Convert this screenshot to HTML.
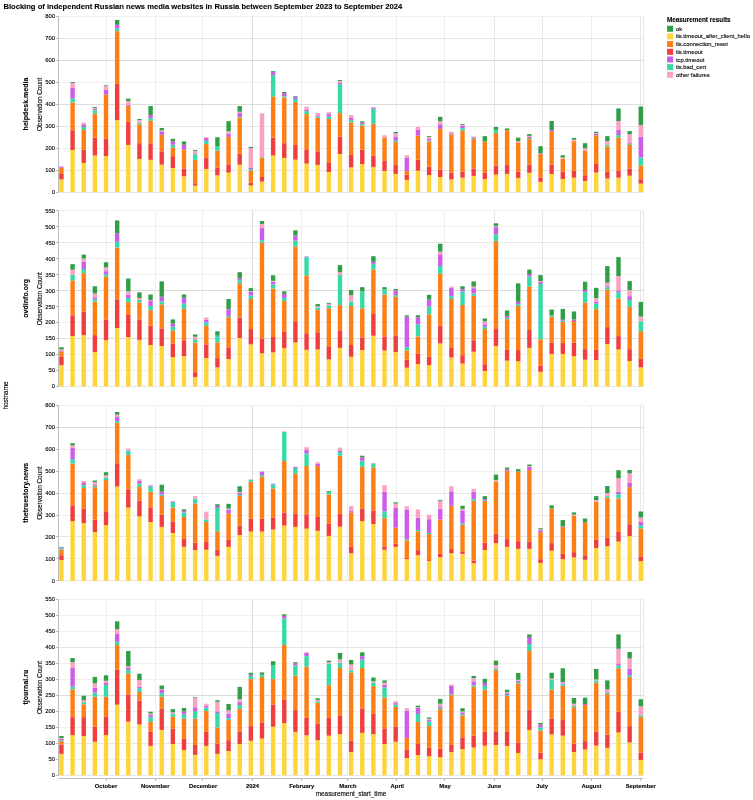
<!DOCTYPE html>
<html><head><meta charset="utf-8"><title>Blocking of independent Russian news media websites in Russia</title>
<style>
html,body{margin:0;padding:0;background:#fff}
svg{display:block;font-family:"Liberation Sans",Arial,Helvetica,sans-serif}
text{fill:#000;stroke:#000;stroke-width:0.12px}
.b{font-weight:bold;stroke-width:.1px}
.l{font-size:5.85px}.h{font-size:6.38px}
.e{text-anchor:end}.m{text-anchor:middle}
.gL,.gM,.gD{stroke-width:1;fill:none}.gL{stroke:#efefef}.gM{stroke:#e7e7e7}.gD{stroke:#dcdcdc}
.ax{stroke:#bbb;stroke-width:1;fill:none}
.y{fill:#ffd43b}.r{fill:#f03e3e}.o{fill:#fd7e14}.t{fill:#38d9a9}.p{fill:#cc5de8}.k{fill:#faa2c1}.g{fill:#2f9e44}
</style></head>
<body>
<svg width="753" height="800" viewBox="0 0 753 800">
<rect width="753" height="800" fill="#fff"/>
<text class="b" x="3.4" y="9" font-size="7.62">Blocking of independent Russian news media websites in Russia between September 2023 to September 2024</text>
<g>
<path class="gL" d="M106.5 16.45V192.15M155.5 16.45V192.15M202.5 16.45V192.15M301.5 16.45V192.15M347.5 16.45V192.15M396.5 16.45V192.15M444.5 16.45V192.15M591.5 16.45V192.15M58.5 148.5H643.5M58.5 82.5H643.5M58.5 16.5H643.5"/>
<path class="gM" d="M494.5 16.45V192.15M542.5 16.45V192.15M640.5 16.45V192.15M58.5 192.5H643.5M58.5 170.5H643.5M58.5 126.5H643.5M58.5 38.5H643.5M643.5 16.45V192.15"/>
<path class="gD" d="M252.5 16.45V192.15M58.5 104.5H643.5M58.5 60.5H643.5"/>
<rect class="y" x="59.25" y="179.41" width="4.4" height="12.74"/>
<rect class="r" x="59.25" y="173.92" width="4.4" height="5.49"/>
<rect class="o" x="59.25" y="167.99" width="4.4" height="5.93"/>
<rect class="p" x="59.25" y="167.11" width="4.4" height="0.88"/>
<rect class="k" x="59.25" y="166.23" width="4.4" height="0.88"/>
<rect class="y" x="70.39" y="149.98" width="4.4" height="42.17"/>
<rect class="r" x="70.39" y="130.22" width="4.4" height="19.77"/>
<rect class="o" x="70.39" y="102.54" width="4.4" height="27.67"/>
<rect class="t" x="70.39" y="98.37" width="4.4" height="4.17"/>
<rect class="p" x="70.39" y="88.05" width="4.4" height="10.32"/>
<rect class="k" x="70.39" y="83" width="4.4" height="5.05"/>
<rect class="g" x="70.39" y="82.12" width="4.4" height="0.88"/>
<rect class="y" x="81.53" y="162.94" width="4.4" height="29.21"/>
<rect class="r" x="81.53" y="149.76" width="4.4" height="13.18"/>
<rect class="o" x="81.53" y="130" width="4.4" height="19.77"/>
<rect class="t" x="81.53" y="126.92" width="4.4" height="3.07"/>
<rect class="p" x="81.53" y="124.29" width="4.4" height="2.64"/>
<rect class="k" x="81.53" y="122.53" width="4.4" height="1.76"/>
<rect class="y" x="92.67" y="155.47" width="4.4" height="36.68"/>
<rect class="r" x="92.67" y="137.68" width="4.4" height="17.79"/>
<rect class="o" x="92.67" y="113.52" width="4.4" height="24.16"/>
<rect class="t" x="92.67" y="110.23" width="4.4" height="3.29"/>
<rect class="p" x="92.67" y="109.13" width="4.4" height="1.1"/>
<rect class="k" x="92.67" y="108.03" width="4.4" height="1.1"/>
<rect class="g" x="92.67" y="107.16" width="4.4" height="0.88"/>
<rect class="y" x="103.81" y="156.13" width="4.4" height="36.02"/>
<rect class="r" x="103.81" y="138.78" width="4.4" height="17.35"/>
<rect class="o" x="103.81" y="94.64" width="4.4" height="44.14"/>
<rect class="p" x="103.81" y="89.59" width="4.4" height="5.05"/>
<rect class="k" x="103.81" y="85.85" width="4.4" height="3.73"/>
<rect class="g" x="103.81" y="85.19" width="4.4" height="0.66"/>
<rect class="y" x="114.95" y="120.11" width="4.4" height="72.04"/>
<rect class="r" x="114.95" y="83.87" width="4.4" height="36.24"/>
<rect class="o" x="114.95" y="31.16" width="4.4" height="52.71"/>
<rect class="t" x="114.95" y="28.53" width="4.4" height="2.64"/>
<rect class="p" x="114.95" y="24.8" width="4.4" height="3.73"/>
<rect class="g" x="114.95" y="19.96" width="4.4" height="4.83"/>
<rect class="y" x="126.1" y="144.93" width="4.4" height="47.22"/>
<rect class="r" x="126.1" y="121.87" width="4.4" height="23.06"/>
<rect class="o" x="126.1" y="105.84" width="4.4" height="16.03"/>
<rect class="p" x="126.1" y="104.74" width="4.4" height="1.1"/>
<rect class="k" x="126.1" y="101.01" width="4.4" height="3.73"/>
<rect class="g" x="126.1" y="98.59" width="4.4" height="2.42"/>
<rect class="y" x="137.24" y="158.99" width="4.4" height="33.16"/>
<rect class="r" x="137.24" y="143.17" width="4.4" height="15.81"/>
<rect class="o" x="137.24" y="124.29" width="4.4" height="18.89"/>
<rect class="t" x="137.24" y="122.75" width="4.4" height="1.54"/>
<rect class="k" x="137.24" y="120.11" width="4.4" height="2.64"/>
<rect class="g" x="137.24" y="119.01" width="4.4" height="1.1"/>
<rect class="y" x="148.38" y="159.87" width="4.4" height="32.28"/>
<rect class="r" x="148.38" y="143.39" width="4.4" height="16.47"/>
<rect class="o" x="148.38" y="120.77" width="4.4" height="22.62"/>
<rect class="t" x="148.38" y="118.14" width="4.4" height="2.64"/>
<rect class="p" x="148.38" y="115.06" width="4.4" height="3.07"/>
<rect class="g" x="148.38" y="106.06" width="4.4" height="9"/>
<rect class="y" x="159.52" y="164.7" width="4.4" height="27.45"/>
<rect class="r" x="159.52" y="151.3" width="4.4" height="13.4"/>
<rect class="o" x="159.52" y="134.83" width="4.4" height="16.47"/>
<rect class="p" x="159.52" y="131.31" width="4.4" height="3.51"/>
<rect class="k" x="159.52" y="130.22" width="4.4" height="1.1"/>
<rect class="g" x="159.52" y="128.02" width="4.4" height="2.2"/>
<rect class="y" x="170.66" y="167.99" width="4.4" height="24.16"/>
<rect class="r" x="170.66" y="156.13" width="4.4" height="11.86"/>
<rect class="o" x="170.66" y="147.57" width="4.4" height="8.57"/>
<rect class="t" x="170.66" y="144.71" width="4.4" height="2.86"/>
<rect class="p" x="170.66" y="141.2" width="4.4" height="3.51"/>
<rect class="g" x="170.66" y="138.78" width="4.4" height="2.42"/>
<rect class="y" x="181.8" y="176.34" width="4.4" height="15.81"/>
<rect class="r" x="181.8" y="168.65" width="4.4" height="7.69"/>
<rect class="o" x="181.8" y="149.32" width="4.4" height="19.33"/>
<rect class="p" x="181.8" y="144.71" width="4.4" height="4.61"/>
<rect class="g" x="181.8" y="141.42" width="4.4" height="3.29"/>
<rect class="y" x="192.94" y="185.56" width="4.4" height="6.59"/>
<rect class="r" x="192.94" y="183.36" width="4.4" height="2.2"/>
<rect class="o" x="192.94" y="159.87" width="4.4" height="23.5"/>
<rect class="t" x="192.94" y="154.15" width="4.4" height="5.71"/>
<rect class="k" x="192.94" y="150.86" width="4.4" height="3.29"/>
<rect class="g" x="192.94" y="149.98" width="4.4" height="0.88"/>
<rect class="y" x="204.08" y="168.87" width="4.4" height="23.28"/>
<rect class="r" x="204.08" y="157.45" width="4.4" height="11.42"/>
<rect class="o" x="204.08" y="144.05" width="4.4" height="13.4"/>
<rect class="t" x="204.08" y="140.76" width="4.4" height="3.29"/>
<rect class="p" x="204.08" y="137.9" width="4.4" height="2.86"/>
<rect class="k" x="204.08" y="137.24" width="4.4" height="0.66"/>
<rect class="y" x="215.22" y="175.24" width="4.4" height="16.91"/>
<rect class="r" x="215.22" y="167.77" width="4.4" height="7.47"/>
<rect class="o" x="215.22" y="150.64" width="4.4" height="17.13"/>
<rect class="t" x="215.22" y="146.47" width="4.4" height="4.17"/>
<rect class="g" x="215.22" y="137.24" width="4.4" height="9.22"/>
<rect class="y" x="226.37" y="172.6" width="4.4" height="19.55"/>
<rect class="r" x="226.37" y="164.26" width="4.4" height="8.35"/>
<rect class="o" x="226.37" y="136.8" width="4.4" height="27.45"/>
<rect class="p" x="226.37" y="133.73" width="4.4" height="3.07"/>
<rect class="k" x="226.37" y="131.31" width="4.4" height="2.42"/>
<rect class="g" x="226.37" y="121.21" width="4.4" height="10.1"/>
<rect class="y" x="237.51" y="164.7" width="4.4" height="27.45"/>
<rect class="r" x="237.51" y="153.72" width="4.4" height="10.98"/>
<rect class="o" x="237.51" y="117.7" width="4.4" height="36.02"/>
<rect class="t" x="237.51" y="117.04" width="4.4" height="0.66"/>
<rect class="p" x="237.51" y="112.87" width="4.4" height="4.17"/>
<rect class="k" x="237.51" y="111.77" width="4.4" height="1.1"/>
<rect class="g" x="237.51" y="106.06" width="4.4" height="5.71"/>
<rect class="y" x="248.65" y="185.34" width="4.4" height="6.81"/>
<rect class="r" x="248.65" y="182.71" width="4.4" height="2.64"/>
<rect class="o" x="248.65" y="170.41" width="4.4" height="12.3"/>
<rect class="t" x="248.65" y="169.09" width="4.4" height="1.32"/>
<rect class="p" x="248.65" y="167.99" width="4.4" height="1.1"/>
<rect class="k" x="248.65" y="148.01" width="4.4" height="19.99"/>
<rect class="g" x="248.65" y="146.91" width="4.4" height="1.1"/>
<rect class="y" x="259.79" y="181.61" width="4.4" height="10.54"/>
<rect class="r" x="259.79" y="177" width="4.4" height="4.61"/>
<rect class="o" x="259.79" y="157.89" width="4.4" height="19.11"/>
<rect class="t" x="259.79" y="157.23" width="4.4" height="0.66"/>
<rect class="k" x="259.79" y="113.3" width="4.4" height="43.92"/>
<rect class="y" x="270.93" y="155.47" width="4.4" height="36.68"/>
<rect class="r" x="270.93" y="137.68" width="4.4" height="17.79"/>
<rect class="o" x="270.93" y="96.39" width="4.4" height="41.29"/>
<rect class="t" x="270.93" y="75.09" width="4.4" height="21.3"/>
<rect class="p" x="270.93" y="72.02" width="4.4" height="3.07"/>
<rect class="g" x="270.93" y="71.14" width="4.4" height="0.88"/>
<rect class="y" x="282.07" y="157.89" width="4.4" height="34.26"/>
<rect class="r" x="282.07" y="143.17" width="4.4" height="14.71"/>
<rect class="o" x="282.07" y="97.71" width="4.4" height="45.46"/>
<rect class="t" x="282.07" y="96.39" width="4.4" height="1.32"/>
<rect class="p" x="282.07" y="93.1" width="4.4" height="3.29"/>
<rect class="g" x="282.07" y="92" width="4.4" height="1.1"/>
<rect class="y" x="293.21" y="159.65" width="4.4" height="32.5"/>
<rect class="r" x="293.21" y="144.93" width="4.4" height="14.71"/>
<rect class="o" x="293.21" y="102.1" width="4.4" height="42.83"/>
<rect class="t" x="293.21" y="99.03" width="4.4" height="3.07"/>
<rect class="p" x="293.21" y="96.83" width="4.4" height="2.2"/>
<rect class="g" x="293.21" y="96.17" width="4.4" height="0.66"/>
<rect class="y" x="304.35" y="163.6" width="4.4" height="28.55"/>
<rect class="r" x="304.35" y="149.32" width="4.4" height="14.28"/>
<rect class="o" x="304.35" y="114.18" width="4.4" height="35.14"/>
<rect class="t" x="304.35" y="111.11" width="4.4" height="3.07"/>
<rect class="p" x="304.35" y="109.79" width="4.4" height="1.32"/>
<rect class="k" x="304.35" y="106.72" width="4.4" height="3.07"/>
<rect class="y" x="315.49" y="164.92" width="4.4" height="27.23"/>
<rect class="r" x="315.49" y="151.3" width="4.4" height="13.62"/>
<rect class="o" x="315.49" y="117.7" width="4.4" height="33.6"/>
<rect class="t" x="315.49" y="116.6" width="4.4" height="1.1"/>
<rect class="p" x="315.49" y="115.28" width="4.4" height="1.32"/>
<rect class="k" x="315.49" y="113.08" width="4.4" height="2.2"/>
<rect class="y" x="326.63" y="171.94" width="4.4" height="20.21"/>
<rect class="r" x="326.63" y="162.28" width="4.4" height="9.66"/>
<rect class="o" x="326.63" y="119.01" width="4.4" height="43.27"/>
<rect class="t" x="326.63" y="116.6" width="4.4" height="2.42"/>
<rect class="p" x="326.63" y="114.18" width="4.4" height="2.42"/>
<rect class="k" x="326.63" y="112.21" width="4.4" height="1.98"/>
<rect class="y" x="337.77" y="153.94" width="4.4" height="38.21"/>
<rect class="r" x="337.77" y="136.8" width="4.4" height="17.13"/>
<rect class="o" x="337.77" y="113.08" width="4.4" height="23.72"/>
<rect class="t" x="337.77" y="84.31" width="4.4" height="28.77"/>
<rect class="p" x="337.77" y="82.78" width="4.4" height="1.54"/>
<rect class="k" x="337.77" y="81.24" width="4.4" height="1.54"/>
<rect class="g" x="337.77" y="80.14" width="4.4" height="1.1"/>
<rect class="y" x="348.92" y="167.33" width="4.4" height="24.82"/>
<rect class="r" x="348.92" y="155.03" width="4.4" height="12.3"/>
<rect class="o" x="348.92" y="122.53" width="4.4" height="32.5"/>
<rect class="t" x="348.92" y="120.11" width="4.4" height="2.42"/>
<rect class="p" x="348.92" y="117.92" width="4.4" height="2.2"/>
<rect class="k" x="348.92" y="115.06" width="4.4" height="2.86"/>
<rect class="y" x="360.06" y="164.04" width="4.4" height="28.11"/>
<rect class="r" x="360.06" y="149.76" width="4.4" height="14.28"/>
<rect class="o" x="360.06" y="125.82" width="4.4" height="23.94"/>
<rect class="t" x="360.06" y="124.29" width="4.4" height="1.54"/>
<rect class="p" x="360.06" y="122.31" width="4.4" height="1.98"/>
<rect class="g" x="360.06" y="121.21" width="4.4" height="1.1"/>
<rect class="y" x="371.2" y="166.89" width="4.4" height="25.26"/>
<rect class="r" x="371.2" y="155.69" width="4.4" height="11.2"/>
<rect class="o" x="371.2" y="123.85" width="4.4" height="31.85"/>
<rect class="t" x="371.2" y="108.69" width="4.4" height="15.15"/>
<rect class="p" x="371.2" y="107.37" width="4.4" height="1.32"/>
<rect class="y" x="382.34" y="170.85" width="4.4" height="21.3"/>
<rect class="r" x="382.34" y="160.3" width="4.4" height="10.54"/>
<rect class="o" x="382.34" y="137.68" width="4.4" height="22.62"/>
<rect class="k" x="382.34" y="135.27" width="4.4" height="2.42"/>
<rect class="y" x="393.48" y="173.92" width="4.4" height="18.23"/>
<rect class="r" x="393.48" y="164.92" width="4.4" height="9"/>
<rect class="o" x="393.48" y="142.08" width="4.4" height="22.84"/>
<rect class="t" x="393.48" y="140.76" width="4.4" height="1.32"/>
<rect class="p" x="393.48" y="137.02" width="4.4" height="3.73"/>
<rect class="k" x="393.48" y="133.29" width="4.4" height="3.73"/>
<rect class="g" x="393.48" y="131.97" width="4.4" height="1.32"/>
<rect class="y" x="404.62" y="179.85" width="4.4" height="12.3"/>
<rect class="r" x="404.62" y="174.58" width="4.4" height="5.27"/>
<rect class="o" x="404.62" y="170.85" width="4.4" height="3.73"/>
<rect class="p" x="404.62" y="157.89" width="4.4" height="12.96"/>
<rect class="k" x="404.62" y="155.25" width="4.4" height="2.64"/>
<rect class="y" x="415.76" y="170.63" width="4.4" height="21.52"/>
<rect class="r" x="415.76" y="159.65" width="4.4" height="10.98"/>
<rect class="o" x="415.76" y="135.71" width="4.4" height="23.94"/>
<rect class="p" x="415.76" y="130" width="4.4" height="5.71"/>
<rect class="k" x="415.76" y="126.92" width="4.4" height="3.07"/>
<rect class="y" x="426.9" y="175.02" width="4.4" height="17.13"/>
<rect class="r" x="426.9" y="166.67" width="4.4" height="8.35"/>
<rect class="o" x="426.9" y="141.42" width="4.4" height="25.26"/>
<rect class="t" x="426.9" y="140.54" width="4.4" height="0.88"/>
<rect class="p" x="426.9" y="138.78" width="4.4" height="1.76"/>
<rect class="k" x="426.9" y="137.02" width="4.4" height="1.76"/>
<rect class="g" x="426.9" y="136.15" width="4.4" height="0.88"/>
<rect class="y" x="438.04" y="177" width="4.4" height="15.15"/>
<rect class="r" x="438.04" y="169.75" width="4.4" height="7.25"/>
<rect class="o" x="438.04" y="128.9" width="4.4" height="40.85"/>
<rect class="p" x="438.04" y="124.29" width="4.4" height="4.61"/>
<rect class="k" x="438.04" y="121.21" width="4.4" height="3.07"/>
<rect class="g" x="438.04" y="116.82" width="4.4" height="4.39"/>
<rect class="y" x="449.19" y="179.41" width="4.4" height="12.74"/>
<rect class="r" x="449.19" y="172.6" width="4.4" height="6.81"/>
<rect class="o" x="449.19" y="134.39" width="4.4" height="38.21"/>
<rect class="p" x="449.19" y="133.29" width="4.4" height="1.1"/>
<rect class="k" x="449.19" y="131.75" width="4.4" height="1.54"/>
<rect class="y" x="460.33" y="177.65" width="4.4" height="14.5"/>
<rect class="r" x="460.33" y="171.72" width="4.4" height="5.93"/>
<rect class="o" x="460.33" y="130.65" width="4.4" height="41.07"/>
<rect class="t" x="460.33" y="128.24" width="4.4" height="2.42"/>
<rect class="p" x="460.33" y="125.82" width="4.4" height="2.42"/>
<rect class="k" x="460.33" y="124.94" width="4.4" height="0.88"/>
<rect class="g" x="460.33" y="124.07" width="4.4" height="0.88"/>
<rect class="y" x="471.47" y="175.9" width="4.4" height="16.25"/>
<rect class="r" x="471.47" y="168.65" width="4.4" height="7.25"/>
<rect class="o" x="471.47" y="139" width="4.4" height="29.65"/>
<rect class="t" x="471.47" y="138.12" width="4.4" height="0.88"/>
<rect class="p" x="471.47" y="137.24" width="4.4" height="0.88"/>
<rect class="k" x="471.47" y="136.58" width="4.4" height="0.66"/>
<rect class="y" x="482.61" y="178.97" width="4.4" height="13.18"/>
<rect class="r" x="482.61" y="172.38" width="4.4" height="6.59"/>
<rect class="o" x="482.61" y="141.42" width="4.4" height="30.97"/>
<rect class="g" x="482.61" y="136.15" width="4.4" height="5.27"/>
<rect class="y" x="493.75" y="174.58" width="4.4" height="17.57"/>
<rect class="r" x="493.75" y="165.79" width="4.4" height="8.79"/>
<rect class="o" x="493.75" y="133.07" width="4.4" height="32.72"/>
<rect class="t" x="493.75" y="129.78" width="4.4" height="3.29"/>
<rect class="g" x="493.75" y="126.92" width="4.4" height="2.86"/>
<rect class="y" x="504.89" y="173.92" width="4.4" height="18.23"/>
<rect class="r" x="504.89" y="164.92" width="4.4" height="9"/>
<rect class="o" x="504.89" y="130.22" width="4.4" height="34.7"/>
<rect class="g" x="504.89" y="128.46" width="4.4" height="1.76"/>
<rect class="y" x="516.03" y="177.87" width="4.4" height="14.28"/>
<rect class="r" x="516.03" y="171.72" width="4.4" height="6.15"/>
<rect class="o" x="516.03" y="142.51" width="4.4" height="29.21"/>
<rect class="k" x="516.03" y="141.2" width="4.4" height="1.32"/>
<rect class="g" x="516.03" y="137.68" width="4.4" height="3.51"/>
<rect class="y" x="527.17" y="172.82" width="4.4" height="19.33"/>
<rect class="r" x="527.17" y="164.7" width="4.4" height="8.13"/>
<rect class="o" x="527.17" y="139" width="4.4" height="25.7"/>
<rect class="t" x="527.17" y="138.12" width="4.4" height="0.88"/>
<rect class="p" x="527.17" y="137.02" width="4.4" height="1.1"/>
<rect class="k" x="527.17" y="135.93" width="4.4" height="1.1"/>
<rect class="g" x="527.17" y="134.17" width="4.4" height="1.76"/>
<rect class="y" x="538.31" y="181.83" width="4.4" height="10.32"/>
<rect class="r" x="538.31" y="177.44" width="4.4" height="4.39"/>
<rect class="o" x="538.31" y="153.94" width="4.4" height="23.5"/>
<rect class="t" x="538.31" y="153.5" width="4.4" height="0.44"/>
<rect class="p" x="538.31" y="153.06" width="4.4" height="0.44"/>
<rect class="g" x="538.31" y="146.25" width="4.4" height="6.81"/>
<rect class="y" x="549.45" y="173.92" width="4.4" height="18.23"/>
<rect class="r" x="549.45" y="164.7" width="4.4" height="9.22"/>
<rect class="o" x="549.45" y="131.31" width="4.4" height="33.38"/>
<rect class="p" x="549.45" y="130" width="4.4" height="1.32"/>
<rect class="g" x="549.45" y="120.99" width="4.4" height="9"/>
<rect class="y" x="560.6" y="178.97" width="4.4" height="13.18"/>
<rect class="r" x="560.6" y="171.72" width="4.4" height="7.25"/>
<rect class="o" x="560.6" y="158.55" width="4.4" height="13.18"/>
<rect class="k" x="560.6" y="157.45" width="4.4" height="1.1"/>
<rect class="g" x="560.6" y="155.25" width="4.4" height="2.2"/>
<rect class="y" x="571.74" y="177.65" width="4.4" height="14.5"/>
<rect class="r" x="571.74" y="170.85" width="4.4" height="6.81"/>
<rect class="o" x="571.74" y="141.2" width="4.4" height="29.65"/>
<rect class="k" x="571.74" y="139.66" width="4.4" height="1.54"/>
<rect class="g" x="571.74" y="137.9" width="4.4" height="1.76"/>
<rect class="y" x="582.88" y="180.95" width="4.4" height="11.2"/>
<rect class="r" x="582.88" y="175.24" width="4.4" height="5.71"/>
<rect class="o" x="582.88" y="150.42" width="4.4" height="24.82"/>
<rect class="k" x="582.88" y="148.22" width="4.4" height="2.2"/>
<rect class="g" x="582.88" y="143.17" width="4.4" height="5.05"/>
<rect class="y" x="594.02" y="172.6" width="4.4" height="19.55"/>
<rect class="r" x="594.02" y="164.04" width="4.4" height="8.57"/>
<rect class="o" x="594.02" y="135.27" width="4.4" height="28.77"/>
<rect class="p" x="594.02" y="133.95" width="4.4" height="1.32"/>
<rect class="k" x="594.02" y="133.07" width="4.4" height="0.88"/>
<rect class="g" x="594.02" y="131.75" width="4.4" height="1.32"/>
<rect class="y" x="605.16" y="178.53" width="4.4" height="13.62"/>
<rect class="r" x="605.16" y="171.94" width="4.4" height="6.59"/>
<rect class="o" x="605.16" y="146.47" width="4.4" height="25.48"/>
<rect class="t" x="605.16" y="144.93" width="4.4" height="1.54"/>
<rect class="k" x="605.16" y="140.98" width="4.4" height="3.95"/>
<rect class="g" x="605.16" y="136.15" width="4.4" height="4.83"/>
<rect class="y" x="616.3" y="177.65" width="4.4" height="14.5"/>
<rect class="r" x="616.3" y="170.41" width="4.4" height="7.25"/>
<rect class="o" x="616.3" y="137.46" width="4.4" height="32.94"/>
<rect class="t" x="616.3" y="135.05" width="4.4" height="2.42"/>
<rect class="p" x="616.3" y="129.56" width="4.4" height="5.49"/>
<rect class="k" x="616.3" y="120.99" width="4.4" height="8.57"/>
<rect class="g" x="616.3" y="108.47" width="4.4" height="12.52"/>
<rect class="y" x="627.44" y="175.68" width="4.4" height="16.47"/>
<rect class="r" x="627.44" y="168.65" width="4.4" height="7.03"/>
<rect class="o" x="627.44" y="144.93" width="4.4" height="23.72"/>
<rect class="t" x="627.44" y="144.05" width="4.4" height="0.88"/>
<rect class="p" x="627.44" y="143.17" width="4.4" height="0.88"/>
<rect class="k" x="627.44" y="134.17" width="4.4" height="9"/>
<rect class="g" x="627.44" y="131.09" width="4.4" height="3.07"/>
<rect class="y" x="638.58" y="183.58" width="4.4" height="8.57"/>
<rect class="r" x="638.58" y="179.19" width="4.4" height="4.39"/>
<rect class="o" x="638.58" y="165.36" width="4.4" height="13.84"/>
<rect class="t" x="638.58" y="157.45" width="4.4" height="7.91"/>
<rect class="p" x="638.58" y="136.8" width="4.4" height="20.64"/>
<rect class="k" x="638.58" y="125.16" width="4.4" height="11.64"/>
<rect class="g" x="638.58" y="106.5" width="4.4" height="18.67"/>
<text class="l e" x="55.1" y="194">0</text>
<text class="l e" x="55.1" y="172.04">100</text>
<text class="l e" x="55.1" y="150.07">200</text>
<text class="l e" x="55.1" y="128.11">300</text>
<text class="l e" x="55.1" y="106.15">400</text>
<text class="l e" x="55.1" y="84.19">500</text>
<text class="l e" x="55.1" y="62.22">600</text>
<text class="l e" x="55.1" y="40.26">700</text>
<text class="l e" x="55.1" y="18.3">800</text>
<path class="ax" d="M58.5 16.45V192.15M56.0 192.5H58.5M56.0 170.5H58.5M56.0 148.5H58.5M56.0 126.5H58.5M56.0 104.5H58.5M56.0 82.5H58.5M56.0 60.5H58.5M56.0 38.5H58.5M56.0 16.5H58.5"/>
<text class="h m" transform="translate(41.6 104.3) rotate(-90)">Observation Count</text>
<text class="b m" font-size="7.04" transform="translate(27.5 104) rotate(-90)">helpdesk.media</text>
</g>
<g>
<path class="gL" d="M106.5 210.83V386.53M155.5 210.83V386.53M202.5 210.83V386.53M301.5 210.83V386.53M347.5 210.83V386.53M396.5 210.83V386.53M444.5 210.83V386.53M591.5 210.83V386.53M58.5 370.5H643.5M58.5 354.5H643.5M58.5 322.5H643.5M58.5 306.5H643.5M58.5 274.5H643.5M58.5 258.5H643.5M58.5 226.5H643.5M58.5 210.5H643.5"/>
<path class="gM" d="M494.5 210.83V386.53M542.5 210.83V386.53M640.5 210.83V386.53M58.5 386.5H643.5M58.5 242.5H643.5M643.5 210.83V386.53"/>
<path class="gD" d="M252.5 210.83V386.53M58.5 338.5H643.5M58.5 290.5H643.5"/>
<rect class="y" x="59.25" y="365.13" width="4.4" height="21.4"/>
<rect class="r" x="59.25" y="356.82" width="4.4" height="8.31"/>
<rect class="o" x="59.25" y="351.39" width="4.4" height="5.43"/>
<rect class="p" x="59.25" y="350.43" width="4.4" height="0.96"/>
<rect class="k" x="59.25" y="349.47" width="4.4" height="0.96"/>
<rect class="g" x="59.25" y="347.24" width="4.4" height="2.24"/>
<rect class="y" x="70.39" y="336.06" width="4.4" height="50.47"/>
<rect class="r" x="70.39" y="315.29" width="4.4" height="20.76"/>
<rect class="o" x="70.39" y="280.47" width="4.4" height="34.82"/>
<rect class="t" x="70.39" y="274.72" width="4.4" height="5.75"/>
<rect class="k" x="70.39" y="269.61" width="4.4" height="5.11"/>
<rect class="g" x="70.39" y="264.18" width="4.4" height="5.43"/>
<rect class="y" x="81.53" y="335.1" width="4.4" height="51.43"/>
<rect class="r" x="81.53" y="311.46" width="4.4" height="23.64"/>
<rect class="o" x="81.53" y="273.12" width="4.4" height="38.33"/>
<rect class="t" x="81.53" y="268.97" width="4.4" height="4.15"/>
<rect class="p" x="81.53" y="261.94" width="4.4" height="7.03"/>
<rect class="k" x="81.53" y="258.43" width="4.4" height="3.51"/>
<rect class="g" x="81.53" y="254.6" width="4.4" height="3.83"/>
<rect class="y" x="92.67" y="352.03" width="4.4" height="34.5"/>
<rect class="r" x="92.67" y="335.1" width="4.4" height="16.93"/>
<rect class="o" x="92.67" y="301.56" width="4.4" height="33.54"/>
<rect class="t" x="92.67" y="299.32" width="4.4" height="2.24"/>
<rect class="p" x="92.67" y="297.4" width="4.4" height="1.92"/>
<rect class="k" x="92.67" y="293.57" width="4.4" height="3.83"/>
<rect class="g" x="92.67" y="286.22" width="4.4" height="7.35"/>
<rect class="y" x="103.81" y="340.21" width="4.4" height="46.32"/>
<rect class="r" x="103.81" y="319.44" width="4.4" height="20.76"/>
<rect class="o" x="103.81" y="276.64" width="4.4" height="42.81"/>
<rect class="t" x="103.81" y="274.4" width="4.4" height="2.24"/>
<rect class="p" x="103.81" y="271.21" width="4.4" height="3.19"/>
<rect class="k" x="103.81" y="267.37" width="4.4" height="3.83"/>
<rect class="g" x="103.81" y="262.26" width="4.4" height="5.11"/>
<rect class="y" x="114.95" y="328.07" width="4.4" height="58.46"/>
<rect class="r" x="114.95" y="299.32" width="4.4" height="28.75"/>
<rect class="o" x="114.95" y="247.57" width="4.4" height="51.75"/>
<rect class="t" x="114.95" y="241.82" width="4.4" height="5.75"/>
<rect class="p" x="114.95" y="233.19" width="4.4" height="8.63"/>
<rect class="g" x="114.95" y="220.41" width="4.4" height="12.78"/>
<rect class="y" x="126.1" y="337.01" width="4.4" height="49.52"/>
<rect class="r" x="126.1" y="314.97" width="4.4" height="22.04"/>
<rect class="o" x="126.1" y="302.19" width="4.4" height="12.78"/>
<rect class="t" x="126.1" y="298.04" width="4.4" height="4.15"/>
<rect class="p" x="126.1" y="294.53" width="4.4" height="3.51"/>
<rect class="k" x="126.1" y="291.33" width="4.4" height="3.19"/>
<rect class="g" x="126.1" y="278.55" width="4.4" height="12.78"/>
<rect class="y" x="137.24" y="339.89" width="4.4" height="46.64"/>
<rect class="r" x="137.24" y="319.44" width="4.4" height="20.45"/>
<rect class="o" x="137.24" y="302.51" width="4.4" height="16.93"/>
<rect class="t" x="137.24" y="299.96" width="4.4" height="2.56"/>
<rect class="k" x="137.24" y="298.04" width="4.4" height="1.92"/>
<rect class="g" x="137.24" y="292.29" width="4.4" height="5.75"/>
<rect class="y" x="148.38" y="345" width="4.4" height="41.53"/>
<rect class="r" x="148.38" y="325.83" width="4.4" height="19.17"/>
<rect class="o" x="148.38" y="310.18" width="4.4" height="15.65"/>
<rect class="t" x="148.38" y="306.03" width="4.4" height="4.15"/>
<rect class="p" x="148.38" y="300.92" width="4.4" height="5.11"/>
<rect class="k" x="148.38" y="299.96" width="4.4" height="0.96"/>
<rect class="g" x="148.38" y="294.53" width="4.4" height="5.43"/>
<rect class="y" x="159.52" y="345.96" width="4.4" height="40.57"/>
<rect class="r" x="159.52" y="328.39" width="4.4" height="17.57"/>
<rect class="o" x="159.52" y="304.43" width="4.4" height="23.96"/>
<rect class="t" x="159.52" y="301.24" width="4.4" height="3.19"/>
<rect class="p" x="159.52" y="296.76" width="4.4" height="4.47"/>
<rect class="g" x="159.52" y="281.43" width="4.4" height="15.33"/>
<rect class="y" x="170.66" y="357.14" width="4.4" height="29.39"/>
<rect class="r" x="170.66" y="343.4" width="4.4" height="13.74"/>
<rect class="o" x="170.66" y="330.63" width="4.4" height="12.78"/>
<rect class="t" x="170.66" y="326.79" width="4.4" height="3.83"/>
<rect class="p" x="170.66" y="323.6" width="4.4" height="3.19"/>
<rect class="g" x="170.66" y="319.44" width="4.4" height="4.15"/>
<rect class="y" x="181.8" y="356.18" width="4.4" height="30.35"/>
<rect class="r" x="181.8" y="340.21" width="4.4" height="15.97"/>
<rect class="o" x="181.8" y="308.9" width="4.4" height="31.31"/>
<rect class="t" x="181.8" y="303.79" width="4.4" height="5.11"/>
<rect class="p" x="181.8" y="297.72" width="4.4" height="6.07"/>
<rect class="g" x="181.8" y="294.53" width="4.4" height="3.19"/>
<rect class="y" x="192.94" y="376.95" width="4.4" height="9.58"/>
<rect class="r" x="192.94" y="372.15" width="4.4" height="4.79"/>
<rect class="o" x="192.94" y="342.76" width="4.4" height="29.39"/>
<rect class="t" x="192.94" y="339.25" width="4.4" height="3.51"/>
<rect class="k" x="192.94" y="336.7" width="4.4" height="2.56"/>
<rect class="g" x="192.94" y="334.46" width="4.4" height="2.24"/>
<rect class="y" x="204.08" y="358.1" width="4.4" height="28.43"/>
<rect class="r" x="204.08" y="344.36" width="4.4" height="13.74"/>
<rect class="o" x="204.08" y="325.83" width="4.4" height="18.53"/>
<rect class="t" x="204.08" y="322.32" width="4.4" height="3.51"/>
<rect class="p" x="204.08" y="319.76" width="4.4" height="2.56"/>
<rect class="k" x="204.08" y="317.53" width="4.4" height="2.24"/>
<rect class="y" x="215.22" y="367.36" width="4.4" height="19.17"/>
<rect class="r" x="215.22" y="358.1" width="4.4" height="9.26"/>
<rect class="o" x="215.22" y="342.45" width="4.4" height="15.65"/>
<rect class="t" x="215.22" y="335.74" width="4.4" height="6.71"/>
<rect class="g" x="215.22" y="331.26" width="4.4" height="4.47"/>
<rect class="y" x="226.37" y="359.06" width="4.4" height="27.47"/>
<rect class="r" x="226.37" y="347.24" width="4.4" height="11.82"/>
<rect class="o" x="226.37" y="317.21" width="4.4" height="30.03"/>
<rect class="t" x="226.37" y="315.93" width="4.4" height="1.28"/>
<rect class="p" x="226.37" y="309.22" width="4.4" height="6.71"/>
<rect class="g" x="226.37" y="299" width="4.4" height="10.22"/>
<rect class="y" x="237.51" y="337.97" width="4.4" height="48.56"/>
<rect class="r" x="237.51" y="317.53" width="4.4" height="20.45"/>
<rect class="o" x="237.51" y="283.35" width="4.4" height="34.18"/>
<rect class="t" x="237.51" y="280.15" width="4.4" height="3.19"/>
<rect class="p" x="237.51" y="278.23" width="4.4" height="1.92"/>
<rect class="g" x="237.51" y="272.17" width="4.4" height="6.07"/>
<rect class="y" x="248.65" y="344.36" width="4.4" height="42.17"/>
<rect class="r" x="248.65" y="329.03" width="4.4" height="15.33"/>
<rect class="o" x="248.65" y="299" width="4.4" height="30.03"/>
<rect class="t" x="248.65" y="295.49" width="4.4" height="3.51"/>
<rect class="p" x="248.65" y="291.97" width="4.4" height="3.51"/>
<rect class="k" x="248.65" y="291.01" width="4.4" height="0.96"/>
<rect class="g" x="248.65" y="288.14" width="4.4" height="2.88"/>
<rect class="y" x="259.79" y="353.31" width="4.4" height="33.22"/>
<rect class="r" x="259.79" y="338.61" width="4.4" height="14.69"/>
<rect class="o" x="259.79" y="242.78" width="4.4" height="95.84"/>
<rect class="t" x="259.79" y="240.22" width="4.4" height="2.56"/>
<rect class="p" x="259.79" y="228.08" width="4.4" height="12.14"/>
<rect class="k" x="259.79" y="223.93" width="4.4" height="4.15"/>
<rect class="g" x="259.79" y="221.05" width="4.4" height="2.88"/>
<rect class="y" x="270.93" y="352.35" width="4.4" height="34.18"/>
<rect class="r" x="270.93" y="337.01" width="4.4" height="15.33"/>
<rect class="o" x="270.93" y="288.46" width="4.4" height="48.56"/>
<rect class="t" x="270.93" y="284.3" width="4.4" height="4.15"/>
<rect class="p" x="270.93" y="281.75" width="4.4" height="2.56"/>
<rect class="k" x="270.93" y="280.79" width="4.4" height="0.96"/>
<rect class="g" x="270.93" y="275.36" width="4.4" height="5.43"/>
<rect class="y" x="282.07" y="348.2" width="4.4" height="38.33"/>
<rect class="r" x="282.07" y="331.9" width="4.4" height="16.29"/>
<rect class="o" x="282.07" y="300.92" width="4.4" height="30.99"/>
<rect class="t" x="282.07" y="298.04" width="4.4" height="2.88"/>
<rect class="p" x="282.07" y="293.89" width="4.4" height="4.15"/>
<rect class="g" x="282.07" y="291.33" width="4.4" height="2.56"/>
<rect class="y" x="293.21" y="342.45" width="4.4" height="44.08"/>
<rect class="r" x="293.21" y="322" width="4.4" height="20.45"/>
<rect class="o" x="293.21" y="246.29" width="4.4" height="75.71"/>
<rect class="t" x="293.21" y="240.54" width="4.4" height="5.75"/>
<rect class="p" x="293.21" y="235.43" width="4.4" height="5.11"/>
<rect class="g" x="293.21" y="230.32" width="4.4" height="5.11"/>
<rect class="y" x="304.35" y="349.79" width="4.4" height="36.74"/>
<rect class="r" x="304.35" y="333.18" width="4.4" height="16.61"/>
<rect class="o" x="304.35" y="275.36" width="4.4" height="57.82"/>
<rect class="t" x="304.35" y="257.15" width="4.4" height="18.21"/>
<rect class="p" x="304.35" y="256.51" width="4.4" height="0.64"/>
<rect class="y" x="315.49" y="349.47" width="4.4" height="37.06"/>
<rect class="r" x="315.49" y="332.22" width="4.4" height="17.25"/>
<rect class="o" x="315.49" y="309.86" width="4.4" height="22.36"/>
<rect class="t" x="315.49" y="307.62" width="4.4" height="2.24"/>
<rect class="k" x="315.49" y="306.35" width="4.4" height="1.28"/>
<rect class="g" x="315.49" y="304.11" width="4.4" height="2.24"/>
<rect class="y" x="326.63" y="359.38" width="4.4" height="27.15"/>
<rect class="r" x="326.63" y="346.28" width="4.4" height="13.1"/>
<rect class="o" x="326.63" y="308.26" width="4.4" height="38.02"/>
<rect class="t" x="326.63" y="305.39" width="4.4" height="2.88"/>
<rect class="k" x="326.63" y="303.79" width="4.4" height="1.6"/>
<rect class="g" x="326.63" y="302.83" width="4.4" height="0.96"/>
<rect class="y" x="337.77" y="347.88" width="4.4" height="38.65"/>
<rect class="r" x="337.77" y="330.31" width="4.4" height="17.57"/>
<rect class="o" x="337.77" y="305.07" width="4.4" height="25.24"/>
<rect class="t" x="337.77" y="275.04" width="4.4" height="30.03"/>
<rect class="k" x="337.77" y="272.17" width="4.4" height="2.88"/>
<rect class="g" x="337.77" y="265.14" width="4.4" height="7.03"/>
<rect class="y" x="348.92" y="356.82" width="4.4" height="29.71"/>
<rect class="r" x="348.92" y="345" width="4.4" height="11.82"/>
<rect class="o" x="348.92" y="306.03" width="4.4" height="38.97"/>
<rect class="t" x="348.92" y="301.56" width="4.4" height="4.47"/>
<rect class="k" x="348.92" y="295.17" width="4.4" height="6.39"/>
<rect class="g" x="348.92" y="290.05" width="4.4" height="5.11"/>
<rect class="y" x="360.06" y="350.11" width="4.4" height="36.42"/>
<rect class="r" x="360.06" y="337.33" width="4.4" height="12.78"/>
<rect class="o" x="360.06" y="308.26" width="4.4" height="29.07"/>
<rect class="t" x="360.06" y="291.33" width="4.4" height="16.93"/>
<rect class="g" x="360.06" y="287.18" width="4.4" height="4.15"/>
<rect class="y" x="371.2" y="335.74" width="4.4" height="50.79"/>
<rect class="r" x="371.2" y="314.01" width="4.4" height="21.72"/>
<rect class="o" x="371.2" y="269.61" width="4.4" height="44.4"/>
<rect class="t" x="371.2" y="263.86" width="4.4" height="5.75"/>
<rect class="p" x="371.2" y="261.94" width="4.4" height="1.92"/>
<rect class="g" x="371.2" y="256.19" width="4.4" height="5.75"/>
<rect class="y" x="382.34" y="350.43" width="4.4" height="36.1"/>
<rect class="r" x="382.34" y="336.7" width="4.4" height="13.74"/>
<rect class="o" x="382.34" y="294.53" width="4.4" height="42.17"/>
<rect class="t" x="382.34" y="289.42" width="4.4" height="5.11"/>
<rect class="g" x="382.34" y="287.18" width="4.4" height="2.24"/>
<rect class="y" x="393.48" y="352.03" width="4.4" height="34.5"/>
<rect class="r" x="393.48" y="335.42" width="4.4" height="16.61"/>
<rect class="o" x="393.48" y="296.76" width="4.4" height="38.65"/>
<rect class="t" x="393.48" y="295.17" width="4.4" height="1.6"/>
<rect class="p" x="393.48" y="290.37" width="4.4" height="4.79"/>
<rect class="g" x="393.48" y="289.1" width="4.4" height="1.28"/>
<rect class="y" x="404.62" y="367.68" width="4.4" height="18.85"/>
<rect class="r" x="404.62" y="359.7" width="4.4" height="7.99"/>
<rect class="o" x="404.62" y="350.43" width="4.4" height="9.26"/>
<rect class="t" x="404.62" y="347.24" width="4.4" height="3.19"/>
<rect class="p" x="404.62" y="316.57" width="4.4" height="30.67"/>
<rect class="g" x="404.62" y="315.29" width="4.4" height="1.28"/>
<rect class="y" x="415.76" y="364.17" width="4.4" height="22.36"/>
<rect class="r" x="415.76" y="353.95" width="4.4" height="10.22"/>
<rect class="o" x="415.76" y="336.38" width="4.4" height="17.57"/>
<rect class="t" x="415.76" y="324.24" width="4.4" height="12.14"/>
<rect class="p" x="415.76" y="317.21" width="4.4" height="7.03"/>
<rect class="g" x="415.76" y="315.29" width="4.4" height="1.92"/>
<rect class="y" x="426.9" y="365.13" width="4.4" height="21.4"/>
<rect class="r" x="426.9" y="356.82" width="4.4" height="8.31"/>
<rect class="o" x="426.9" y="314.33" width="4.4" height="42.49"/>
<rect class="t" x="426.9" y="306.35" width="4.4" height="7.99"/>
<rect class="p" x="426.9" y="299.64" width="4.4" height="6.71"/>
<rect class="g" x="426.9" y="294.85" width="4.4" height="4.79"/>
<rect class="y" x="438.04" y="343.4" width="4.4" height="43.13"/>
<rect class="r" x="438.04" y="325.83" width="4.4" height="17.57"/>
<rect class="o" x="438.04" y="273.76" width="4.4" height="52.07"/>
<rect class="t" x="438.04" y="266.1" width="4.4" height="7.67"/>
<rect class="p" x="438.04" y="254.28" width="4.4" height="11.82"/>
<rect class="k" x="438.04" y="251.72" width="4.4" height="2.56"/>
<rect class="g" x="438.04" y="243.73" width="4.4" height="7.99"/>
<rect class="y" x="449.19" y="357.46" width="4.4" height="29.07"/>
<rect class="r" x="449.19" y="347.24" width="4.4" height="10.22"/>
<rect class="o" x="449.19" y="299" width="4.4" height="48.24"/>
<rect class="t" x="449.19" y="296.12" width="4.4" height="2.88"/>
<rect class="p" x="449.19" y="287.82" width="4.4" height="8.31"/>
<rect class="k" x="449.19" y="286.54" width="4.4" height="1.28"/>
<rect class="y" x="460.33" y="363.53" width="4.4" height="23"/>
<rect class="r" x="460.33" y="355.22" width="4.4" height="8.31"/>
<rect class="o" x="460.33" y="305.07" width="4.4" height="50.15"/>
<rect class="t" x="460.33" y="291.33" width="4.4" height="13.74"/>
<rect class="p" x="460.33" y="289.1" width="4.4" height="2.24"/>
<rect class="g" x="460.33" y="286.22" width="4.4" height="2.88"/>
<rect class="y" x="471.47" y="351.71" width="4.4" height="34.82"/>
<rect class="r" x="471.47" y="340.21" width="4.4" height="11.5"/>
<rect class="o" x="471.47" y="295.8" width="4.4" height="44.4"/>
<rect class="t" x="471.47" y="293.57" width="4.4" height="2.24"/>
<rect class="p" x="471.47" y="288.14" width="4.4" height="5.43"/>
<rect class="k" x="471.47" y="286.54" width="4.4" height="1.6"/>
<rect class="g" x="471.47" y="281.43" width="4.4" height="5.11"/>
<rect class="y" x="482.61" y="370.88" width="4.4" height="15.65"/>
<rect class="r" x="482.61" y="364.17" width="4.4" height="6.71"/>
<rect class="o" x="482.61" y="329.03" width="4.4" height="35.14"/>
<rect class="t" x="482.61" y="326.79" width="4.4" height="2.24"/>
<rect class="p" x="482.61" y="324.24" width="4.4" height="2.56"/>
<rect class="k" x="482.61" y="321.36" width="4.4" height="2.88"/>
<rect class="g" x="482.61" y="318.49" width="4.4" height="2.88"/>
<rect class="y" x="493.75" y="345.96" width="4.4" height="40.57"/>
<rect class="r" x="493.75" y="329.03" width="4.4" height="16.93"/>
<rect class="o" x="493.75" y="241.18" width="4.4" height="87.85"/>
<rect class="t" x="493.75" y="234.15" width="4.4" height="7.03"/>
<rect class="p" x="493.75" y="227.12" width="4.4" height="7.03"/>
<rect class="k" x="493.75" y="226.16" width="4.4" height="0.96"/>
<rect class="g" x="493.75" y="223.29" width="4.4" height="2.88"/>
<rect class="y" x="504.89" y="360.65" width="4.4" height="25.88"/>
<rect class="r" x="504.89" y="349.79" width="4.4" height="10.86"/>
<rect class="o" x="504.89" y="319.13" width="4.4" height="30.67"/>
<rect class="t" x="504.89" y="317.85" width="4.4" height="1.28"/>
<rect class="p" x="504.89" y="315.93" width="4.4" height="1.92"/>
<rect class="g" x="504.89" y="310.5" width="4.4" height="5.43"/>
<rect class="y" x="516.03" y="361.29" width="4.4" height="25.24"/>
<rect class="r" x="516.03" y="350.11" width="4.4" height="11.18"/>
<rect class="o" x="516.03" y="306.03" width="4.4" height="44.08"/>
<rect class="t" x="516.03" y="304.11" width="4.4" height="1.92"/>
<rect class="p" x="516.03" y="301.87" width="4.4" height="2.24"/>
<rect class="g" x="516.03" y="283.35" width="4.4" height="18.53"/>
<rect class="y" x="527.17" y="347.88" width="4.4" height="38.65"/>
<rect class="r" x="527.17" y="329.99" width="4.4" height="17.89"/>
<rect class="o" x="527.17" y="286.54" width="4.4" height="43.45"/>
<rect class="t" x="527.17" y="276.32" width="4.4" height="10.22"/>
<rect class="p" x="527.17" y="274.08" width="4.4" height="2.24"/>
<rect class="g" x="527.17" y="269.61" width="4.4" height="4.47"/>
<rect class="y" x="538.31" y="371.84" width="4.4" height="14.69"/>
<rect class="r" x="538.31" y="365.45" width="4.4" height="6.39"/>
<rect class="o" x="538.31" y="339.25" width="4.4" height="26.2"/>
<rect class="t" x="538.31" y="283.99" width="4.4" height="55.27"/>
<rect class="p" x="538.31" y="282.07" width="4.4" height="1.92"/>
<rect class="k" x="538.31" y="281.11" width="4.4" height="0.96"/>
<rect class="g" x="538.31" y="275.04" width="4.4" height="6.07"/>
<rect class="y" x="549.45" y="353.95" width="4.4" height="32.58"/>
<rect class="r" x="549.45" y="342.45" width="4.4" height="11.5"/>
<rect class="o" x="549.45" y="316.57" width="4.4" height="25.88"/>
<rect class="t" x="549.45" y="314.97" width="4.4" height="1.6"/>
<rect class="g" x="549.45" y="309.54" width="4.4" height="5.43"/>
<rect class="y" x="560.6" y="353.95" width="4.4" height="32.58"/>
<rect class="r" x="560.6" y="343.08" width="4.4" height="10.86"/>
<rect class="o" x="560.6" y="322" width="4.4" height="21.08"/>
<rect class="t" x="560.6" y="320.72" width="4.4" height="1.28"/>
<rect class="p" x="560.6" y="319.76" width="4.4" height="0.96"/>
<rect class="g" x="560.6" y="308.9" width="4.4" height="10.86"/>
<rect class="y" x="571.74" y="356.18" width="4.4" height="30.35"/>
<rect class="r" x="571.74" y="342.45" width="4.4" height="13.74"/>
<rect class="o" x="571.74" y="321.04" width="4.4" height="21.4"/>
<rect class="p" x="571.74" y="319.44" width="4.4" height="1.6"/>
<rect class="g" x="571.74" y="311.46" width="4.4" height="7.99"/>
<rect class="y" x="582.88" y="359.7" width="4.4" height="26.83"/>
<rect class="r" x="582.88" y="349.15" width="4.4" height="10.54"/>
<rect class="o" x="582.88" y="302.51" width="4.4" height="46.64"/>
<rect class="t" x="582.88" y="291.97" width="4.4" height="10.54"/>
<rect class="p" x="582.88" y="290.05" width="4.4" height="1.92"/>
<rect class="g" x="582.88" y="281.75" width="4.4" height="8.31"/>
<rect class="y" x="594.02" y="360.02" width="4.4" height="26.51"/>
<rect class="r" x="594.02" y="349.79" width="4.4" height="10.22"/>
<rect class="o" x="594.02" y="309.22" width="4.4" height="40.57"/>
<rect class="t" x="594.02" y="303.47" width="4.4" height="5.75"/>
<rect class="p" x="594.02" y="301.56" width="4.4" height="1.92"/>
<rect class="k" x="594.02" y="298.04" width="4.4" height="3.51"/>
<rect class="g" x="594.02" y="287.82" width="4.4" height="10.22"/>
<rect class="y" x="605.16" y="344.04" width="4.4" height="42.49"/>
<rect class="r" x="605.16" y="327.11" width="4.4" height="16.93"/>
<rect class="o" x="605.16" y="289.42" width="4.4" height="37.7"/>
<rect class="t" x="605.16" y="287.18" width="4.4" height="2.24"/>
<rect class="p" x="605.16" y="286.22" width="4.4" height="0.96"/>
<rect class="k" x="605.16" y="282.71" width="4.4" height="3.51"/>
<rect class="g" x="605.16" y="266.1" width="4.4" height="16.61"/>
<rect class="y" x="616.3" y="349.47" width="4.4" height="37.06"/>
<rect class="r" x="616.3" y="336.06" width="4.4" height="13.42"/>
<rect class="o" x="616.3" y="298.36" width="4.4" height="37.7"/>
<rect class="t" x="616.3" y="292.29" width="4.4" height="6.07"/>
<rect class="p" x="616.3" y="290.37" width="4.4" height="1.92"/>
<rect class="k" x="616.3" y="276" width="4.4" height="14.38"/>
<rect class="g" x="616.3" y="257.15" width="4.4" height="18.85"/>
<rect class="y" x="627.44" y="360.97" width="4.4" height="25.56"/>
<rect class="r" x="627.44" y="349.15" width="4.4" height="11.82"/>
<rect class="o" x="627.44" y="306.99" width="4.4" height="42.17"/>
<rect class="t" x="627.44" y="299.96" width="4.4" height="7.03"/>
<rect class="p" x="627.44" y="296.12" width="4.4" height="3.83"/>
<rect class="k" x="627.44" y="290.05" width="4.4" height="6.07"/>
<rect class="g" x="627.44" y="281.11" width="4.4" height="8.94"/>
<rect class="y" x="638.58" y="367.36" width="4.4" height="19.17"/>
<rect class="r" x="638.58" y="359.06" width="4.4" height="8.31"/>
<rect class="o" x="638.58" y="331.26" width="4.4" height="27.79"/>
<rect class="t" x="638.58" y="321.36" width="4.4" height="9.9"/>
<rect class="k" x="638.58" y="316.57" width="4.4" height="4.79"/>
<rect class="g" x="638.58" y="301.87" width="4.4" height="14.69"/>
<text class="l e" x="55.1" y="388.38">0</text>
<text class="l e" x="55.1" y="372.41">50</text>
<text class="l e" x="55.1" y="356.43">100</text>
<text class="l e" x="55.1" y="340.46">150</text>
<text class="l e" x="55.1" y="324.49">200</text>
<text class="l e" x="55.1" y="308.52">250</text>
<text class="l e" x="55.1" y="292.54">300</text>
<text class="l e" x="55.1" y="276.57">350</text>
<text class="l e" x="55.1" y="260.6">400</text>
<text class="l e" x="55.1" y="244.63">450</text>
<text class="l e" x="55.1" y="228.65">500</text>
<text class="l e" x="55.1" y="212.68">550</text>
<path class="ax" d="M58.5 210.83V386.53M56.0 386.5H58.5M56.0 370.5H58.5M56.0 354.5H58.5M56.0 338.5H58.5M56.0 322.5H58.5M56.0 306.5H58.5M56.0 290.5H58.5M56.0 274.5H58.5M56.0 258.5H58.5M56.0 242.5H58.5M56.0 226.5H58.5M56.0 210.5H58.5"/>
<text class="h m" transform="translate(41.6 298.68) rotate(-90)">Observation Count</text>
<text class="b m" font-size="7.04" transform="translate(27.5 298.38) rotate(-90)">ovdinfo.org</text>
</g>
<g>
<path class="gL" d="M106.5 405.21V580.91M155.5 405.21V580.91M202.5 405.21V580.91M301.5 405.21V580.91M347.5 405.21V580.91M396.5 405.21V580.91M444.5 405.21V580.91M591.5 405.21V580.91M58.5 558.5H643.5M58.5 515.5H643.5M58.5 471.5H643.5M58.5 449.5H643.5M58.5 405.5H643.5"/>
<path class="gM" d="M494.5 405.21V580.91M542.5 405.21V580.91M640.5 405.21V580.91M58.5 580.5H643.5M58.5 536.5H643.5M58.5 493.5H643.5M643.5 405.21V580.91"/>
<path class="gD" d="M252.5 405.21V580.91M58.5 427.5H643.5"/>
<rect class="y" x="59.25" y="560.05" width="4.4" height="20.86"/>
<rect class="r" x="59.25" y="555.21" width="4.4" height="4.83"/>
<rect class="o" x="59.25" y="549.72" width="4.4" height="5.49"/>
<rect class="t" x="59.25" y="548.63" width="4.4" height="1.1"/>
<rect class="p" x="59.25" y="547.53" width="4.4" height="1.1"/>
<rect class="g" x="59.25" y="546.87" width="4.4" height="0.66"/>
<rect class="y" x="70.39" y="521.17" width="4.4" height="59.74"/>
<rect class="r" x="70.39" y="505.36" width="4.4" height="15.81"/>
<rect class="o" x="70.39" y="463.63" width="4.4" height="41.73"/>
<rect class="t" x="70.39" y="459.24" width="4.4" height="4.39"/>
<rect class="p" x="70.39" y="448.04" width="4.4" height="11.2"/>
<rect class="k" x="70.39" y="445.4" width="4.4" height="2.64"/>
<rect class="g" x="70.39" y="443.21" width="4.4" height="2.2"/>
<rect class="y" x="81.53" y="523.15" width="4.4" height="57.76"/>
<rect class="r" x="81.53" y="508.43" width="4.4" height="14.71"/>
<rect class="o" x="81.53" y="488.01" width="4.4" height="20.43"/>
<rect class="t" x="81.53" y="485.15" width="4.4" height="2.86"/>
<rect class="p" x="81.53" y="482.3" width="4.4" height="2.86"/>
<rect class="k" x="81.53" y="480.98" width="4.4" height="1.32"/>
<rect class="y" x="92.67" y="532.15" width="4.4" height="48.76"/>
<rect class="r" x="92.67" y="519.63" width="4.4" height="12.52"/>
<rect class="o" x="92.67" y="487.13" width="4.4" height="32.5"/>
<rect class="t" x="92.67" y="486.03" width="4.4" height="1.1"/>
<rect class="p" x="92.67" y="485.15" width="4.4" height="0.88"/>
<rect class="k" x="92.67" y="482.08" width="4.4" height="3.07"/>
<rect class="g" x="92.67" y="480.54" width="4.4" height="1.54"/>
<rect class="y" x="103.81" y="525.13" width="4.4" height="55.78"/>
<rect class="r" x="103.81" y="511.29" width="4.4" height="13.84"/>
<rect class="o" x="103.81" y="480.1" width="4.4" height="31.19"/>
<rect class="t" x="103.81" y="477.47" width="4.4" height="2.64"/>
<rect class="k" x="103.81" y="475.27" width="4.4" height="2.2"/>
<rect class="g" x="103.81" y="472.2" width="4.4" height="3.07"/>
<rect class="y" x="114.95" y="486.47" width="4.4" height="94.44"/>
<rect class="r" x="114.95" y="463.19" width="4.4" height="23.28"/>
<rect class="o" x="114.95" y="422.78" width="4.4" height="40.41"/>
<rect class="t" x="114.95" y="421.02" width="4.4" height="1.76"/>
<rect class="p" x="114.95" y="417.07" width="4.4" height="3.95"/>
<rect class="k" x="114.95" y="414.65" width="4.4" height="2.42"/>
<rect class="g" x="114.95" y="412.02" width="4.4" height="2.64"/>
<rect class="y" x="126.1" y="507.56" width="4.4" height="73.35"/>
<rect class="r" x="126.1" y="489.33" width="4.4" height="18.23"/>
<rect class="o" x="126.1" y="455.06" width="4.4" height="34.26"/>
<rect class="t" x="126.1" y="450.45" width="4.4" height="4.61"/>
<rect class="k" x="126.1" y="448.48" width="4.4" height="1.98"/>
<rect class="y" x="137.24" y="516.34" width="4.4" height="64.57"/>
<rect class="r" x="137.24" y="500.75" width="4.4" height="15.59"/>
<rect class="o" x="137.24" y="486.91" width="4.4" height="13.84"/>
<rect class="t" x="137.24" y="483.62" width="4.4" height="3.29"/>
<rect class="p" x="137.24" y="480.98" width="4.4" height="2.64"/>
<rect class="k" x="137.24" y="479.22" width="4.4" height="1.76"/>
<rect class="y" x="148.38" y="522.05" width="4.4" height="58.86"/>
<rect class="r" x="148.38" y="507.34" width="4.4" height="14.71"/>
<rect class="o" x="148.38" y="491.74" width="4.4" height="15.59"/>
<rect class="t" x="148.38" y="486.47" width="4.4" height="5.27"/>
<rect class="p" x="148.38" y="485.37" width="4.4" height="1.1"/>
<rect class="y" x="159.52" y="526.88" width="4.4" height="54.03"/>
<rect class="r" x="159.52" y="514.8" width="4.4" height="12.08"/>
<rect class="o" x="159.52" y="495.92" width="4.4" height="18.89"/>
<rect class="t" x="159.52" y="494.6" width="4.4" height="1.32"/>
<rect class="p" x="159.52" y="491.74" width="4.4" height="2.86"/>
<rect class="g" x="159.52" y="484.71" width="4.4" height="7.03"/>
<rect class="y" x="170.66" y="533.03" width="4.4" height="47.88"/>
<rect class="r" x="170.66" y="521.39" width="4.4" height="11.64"/>
<rect class="o" x="170.66" y="507.56" width="4.4" height="13.84"/>
<rect class="t" x="170.66" y="502.06" width="4.4" height="5.49"/>
<rect class="p" x="170.66" y="501.41" width="4.4" height="0.66"/>
<rect class="y" x="181.8" y="546.87" width="4.4" height="34.04"/>
<rect class="r" x="181.8" y="538.96" width="4.4" height="7.91"/>
<rect class="o" x="181.8" y="517" width="4.4" height="21.96"/>
<rect class="t" x="181.8" y="512.39" width="4.4" height="4.61"/>
<rect class="p" x="181.8" y="510.85" width="4.4" height="1.54"/>
<rect class="g" x="181.8" y="509.31" width="4.4" height="1.54"/>
<rect class="y" x="192.94" y="550.16" width="4.4" height="30.75"/>
<rect class="r" x="192.94" y="542.7" width="4.4" height="7.47"/>
<rect class="o" x="192.94" y="503.38" width="4.4" height="39.31"/>
<rect class="t" x="192.94" y="498.55" width="4.4" height="4.83"/>
<rect class="k" x="192.94" y="496.13" width="4.4" height="2.42"/>
<rect class="y" x="204.08" y="549.72" width="4.4" height="31.19"/>
<rect class="r" x="204.08" y="542.04" width="4.4" height="7.69"/>
<rect class="o" x="204.08" y="522.05" width="4.4" height="19.99"/>
<rect class="t" x="204.08" y="519.41" width="4.4" height="2.64"/>
<rect class="k" x="204.08" y="511.73" width="4.4" height="7.69"/>
<rect class="y" x="215.22" y="555.87" width="4.4" height="25.04"/>
<rect class="r" x="215.22" y="549.72" width="4.4" height="6.15"/>
<rect class="o" x="215.22" y="531.27" width="4.4" height="18.45"/>
<rect class="t" x="215.22" y="507.99" width="4.4" height="23.28"/>
<rect class="p" x="215.22" y="506.02" width="4.4" height="1.98"/>
<rect class="g" x="215.22" y="504.26" width="4.4" height="1.76"/>
<rect class="y" x="226.37" y="546.87" width="4.4" height="34.04"/>
<rect class="r" x="226.37" y="539.4" width="4.4" height="7.47"/>
<rect class="o" x="226.37" y="513.49" width="4.4" height="25.92"/>
<rect class="p" x="226.37" y="509.75" width="4.4" height="3.73"/>
<rect class="k" x="226.37" y="508.65" width="4.4" height="1.1"/>
<rect class="g" x="226.37" y="503.82" width="4.4" height="4.83"/>
<rect class="y" x="237.51" y="535.01" width="4.4" height="45.9"/>
<rect class="r" x="237.51" y="525.78" width="4.4" height="9.22"/>
<rect class="o" x="237.51" y="495.92" width="4.4" height="29.87"/>
<rect class="t" x="237.51" y="495.04" width="4.4" height="0.88"/>
<rect class="p" x="237.51" y="493.06" width="4.4" height="1.98"/>
<rect class="k" x="237.51" y="491.96" width="4.4" height="1.1"/>
<rect class="g" x="237.51" y="486.25" width="4.4" height="5.71"/>
<rect class="y" x="248.65" y="531.49" width="4.4" height="49.42"/>
<rect class="r" x="248.65" y="518.76" width="4.4" height="12.74"/>
<rect class="o" x="248.65" y="481.64" width="4.4" height="37.12"/>
<rect class="t" x="248.65" y="479.88" width="4.4" height="1.76"/>
<rect class="k" x="248.65" y="479.22" width="4.4" height="0.66"/>
<rect class="y" x="259.79" y="531.49" width="4.4" height="49.42"/>
<rect class="r" x="259.79" y="518.76" width="4.4" height="12.74"/>
<rect class="o" x="259.79" y="476.37" width="4.4" height="42.39"/>
<rect class="t" x="259.79" y="475.05" width="4.4" height="1.32"/>
<rect class="p" x="259.79" y="471.54" width="4.4" height="3.51"/>
<rect class="y" x="270.93" y="529.52" width="4.4" height="51.39"/>
<rect class="r" x="270.93" y="517.44" width="4.4" height="12.08"/>
<rect class="o" x="270.93" y="488.45" width="4.4" height="28.99"/>
<rect class="t" x="270.93" y="484.49" width="4.4" height="3.95"/>
<rect class="p" x="270.93" y="483.62" width="4.4" height="0.88"/>
<rect class="y" x="282.07" y="525.56" width="4.4" height="55.35"/>
<rect class="r" x="282.07" y="512.39" width="4.4" height="13.18"/>
<rect class="o" x="282.07" y="460.99" width="4.4" height="51.39"/>
<rect class="t" x="282.07" y="432" width="4.4" height="28.99"/>
<rect class="k" x="282.07" y="431.35" width="4.4" height="0.66"/>
<rect class="y" x="293.21" y="526.88" width="4.4" height="54.03"/>
<rect class="r" x="293.21" y="513.92" width="4.4" height="12.96"/>
<rect class="o" x="293.21" y="473.73" width="4.4" height="40.19"/>
<rect class="t" x="293.21" y="468.02" width="4.4" height="5.71"/>
<rect class="p" x="293.21" y="466.92" width="4.4" height="1.1"/>
<rect class="y" x="304.35" y="528.64" width="4.4" height="52.27"/>
<rect class="r" x="304.35" y="514.36" width="4.4" height="14.28"/>
<rect class="o" x="304.35" y="466.05" width="4.4" height="48.32"/>
<rect class="t" x="304.35" y="453.53" width="4.4" height="12.52"/>
<rect class="p" x="304.35" y="450.01" width="4.4" height="3.51"/>
<rect class="k" x="304.35" y="447.16" width="4.4" height="2.86"/>
<rect class="y" x="315.49" y="530.84" width="4.4" height="50.07"/>
<rect class="r" x="315.49" y="517" width="4.4" height="13.84"/>
<rect class="o" x="315.49" y="466.05" width="4.4" height="50.95"/>
<rect class="p" x="315.49" y="463.85" width="4.4" height="2.2"/>
<rect class="k" x="315.49" y="462.31" width="4.4" height="1.54"/>
<rect class="y" x="326.63" y="535.89" width="4.4" height="45.02"/>
<rect class="r" x="326.63" y="523.81" width="4.4" height="12.08"/>
<rect class="o" x="326.63" y="494.38" width="4.4" height="29.43"/>
<rect class="t" x="326.63" y="491.96" width="4.4" height="2.42"/>
<rect class="g" x="326.63" y="491.08" width="4.4" height="0.88"/>
<rect class="y" x="337.77" y="526.66" width="4.4" height="54.25"/>
<rect class="r" x="337.77" y="513.92" width="4.4" height="12.74"/>
<rect class="o" x="337.77" y="455.72" width="4.4" height="58.2"/>
<rect class="t" x="337.77" y="451.99" width="4.4" height="3.73"/>
<rect class="p" x="337.77" y="450.45" width="4.4" height="1.54"/>
<rect class="k" x="337.77" y="447.6" width="4.4" height="2.86"/>
<rect class="y" x="348.92" y="553.24" width="4.4" height="27.67"/>
<rect class="r" x="348.92" y="546.87" width="4.4" height="6.37"/>
<rect class="o" x="348.92" y="512.39" width="4.4" height="34.48"/>
<rect class="p" x="348.92" y="511.07" width="4.4" height="1.32"/>
<rect class="k" x="348.92" y="506.02" width="4.4" height="5.05"/>
<rect class="y" x="360.06" y="521.17" width="4.4" height="59.74"/>
<rect class="r" x="360.06" y="508.87" width="4.4" height="12.3"/>
<rect class="o" x="360.06" y="466.92" width="4.4" height="41.95"/>
<rect class="t" x="360.06" y="460.78" width="4.4" height="6.15"/>
<rect class="p" x="360.06" y="457.26" width="4.4" height="3.51"/>
<rect class="g" x="360.06" y="455.72" width="4.4" height="1.54"/>
<rect class="y" x="371.2" y="524.03" width="4.4" height="56.88"/>
<rect class="r" x="371.2" y="510.85" width="4.4" height="13.18"/>
<rect class="o" x="371.2" y="467.36" width="4.4" height="43.49"/>
<rect class="t" x="371.2" y="464.07" width="4.4" height="3.29"/>
<rect class="p" x="371.2" y="463.41" width="4.4" height="0.66"/>
<rect class="y" x="382.34" y="549.72" width="4.4" height="31.19"/>
<rect class="r" x="382.34" y="546.87" width="4.4" height="2.86"/>
<rect class="o" x="382.34" y="518.1" width="4.4" height="28.77"/>
<rect class="t" x="382.34" y="511.29" width="4.4" height="6.81"/>
<rect class="p" x="382.34" y="491.74" width="4.4" height="19.55"/>
<rect class="k" x="382.34" y="485.15" width="4.4" height="6.59"/>
<rect class="y" x="393.48" y="546.87" width="4.4" height="34.04"/>
<rect class="r" x="393.48" y="543.79" width="4.4" height="3.07"/>
<rect class="o" x="393.48" y="527.76" width="4.4" height="16.03"/>
<rect class="p" x="393.48" y="507.99" width="4.4" height="19.77"/>
<rect class="k" x="393.48" y="503.6" width="4.4" height="4.39"/>
<rect class="g" x="393.48" y="502.28" width="4.4" height="1.32"/>
<rect class="y" x="404.62" y="559.17" width="4.4" height="21.74"/>
<rect class="r" x="404.62" y="558.07" width="4.4" height="1.1"/>
<rect class="o" x="404.62" y="540.28" width="4.4" height="17.79"/>
<rect class="t" x="404.62" y="539.18" width="4.4" height="1.1"/>
<rect class="p" x="404.62" y="509.53" width="4.4" height="29.65"/>
<rect class="k" x="404.62" y="506.24" width="4.4" height="3.29"/>
<rect class="y" x="415.76" y="555.21" width="4.4" height="25.7"/>
<rect class="r" x="415.76" y="550.16" width="4.4" height="5.05"/>
<rect class="o" x="415.76" y="531.27" width="4.4" height="18.89"/>
<rect class="t" x="415.76" y="529.96" width="4.4" height="1.32"/>
<rect class="p" x="415.76" y="517.66" width="4.4" height="12.3"/>
<rect class="k" x="415.76" y="509.53" width="4.4" height="8.13"/>
<rect class="y" x="426.9" y="560.92" width="4.4" height="19.99"/>
<rect class="r" x="426.9" y="560.05" width="4.4" height="0.88"/>
<rect class="o" x="426.9" y="534.13" width="4.4" height="25.92"/>
<rect class="t" x="426.9" y="533.03" width="4.4" height="1.1"/>
<rect class="p" x="426.9" y="519.2" width="4.4" height="13.84"/>
<rect class="k" x="426.9" y="514.8" width="4.4" height="4.39"/>
<rect class="y" x="438.04" y="557.19" width="4.4" height="23.72"/>
<rect class="r" x="438.04" y="553.9" width="4.4" height="3.29"/>
<rect class="o" x="438.04" y="519.63" width="4.4" height="34.26"/>
<rect class="p" x="438.04" y="508.87" width="4.4" height="10.76"/>
<rect class="k" x="438.04" y="500.97" width="4.4" height="7.91"/>
<rect class="g" x="438.04" y="500.09" width="4.4" height="0.88"/>
<rect class="y" x="449.19" y="553.24" width="4.4" height="27.67"/>
<rect class="r" x="449.19" y="549.06" width="4.4" height="4.17"/>
<rect class="o" x="449.19" y="505.8" width="4.4" height="43.27"/>
<rect class="p" x="449.19" y="491.3" width="4.4" height="14.5"/>
<rect class="k" x="449.19" y="486.25" width="4.4" height="5.05"/>
<rect class="y" x="460.33" y="553.9" width="4.4" height="27.01"/>
<rect class="r" x="460.33" y="551.92" width="4.4" height="1.98"/>
<rect class="o" x="460.33" y="524.91" width="4.4" height="27.01"/>
<rect class="t" x="460.33" y="523.37" width="4.4" height="1.54"/>
<rect class="p" x="460.33" y="510.41" width="4.4" height="12.96"/>
<rect class="k" x="460.33" y="508.87" width="4.4" height="1.54"/>
<rect class="g" x="460.33" y="505.8" width="4.4" height="3.07"/>
<rect class="y" x="471.47" y="563.12" width="4.4" height="17.79"/>
<rect class="r" x="471.47" y="560.7" width="4.4" height="2.42"/>
<rect class="o" x="471.47" y="500.75" width="4.4" height="59.96"/>
<rect class="t" x="471.47" y="499.21" width="4.4" height="1.54"/>
<rect class="p" x="471.47" y="491.74" width="4.4" height="7.47"/>
<rect class="k" x="471.47" y="488.89" width="4.4" height="2.86"/>
<rect class="y" x="482.61" y="549.94" width="4.4" height="30.97"/>
<rect class="r" x="482.61" y="542.7" width="4.4" height="7.25"/>
<rect class="o" x="482.61" y="500.97" width="4.4" height="41.73"/>
<rect class="t" x="482.61" y="500.09" width="4.4" height="0.88"/>
<rect class="p" x="482.61" y="498.99" width="4.4" height="1.1"/>
<rect class="g" x="482.61" y="496.13" width="4.4" height="2.86"/>
<rect class="y" x="493.75" y="543.13" width="4.4" height="37.78"/>
<rect class="r" x="493.75" y="533.91" width="4.4" height="9.22"/>
<rect class="o" x="493.75" y="481.64" width="4.4" height="52.27"/>
<rect class="k" x="493.75" y="480.1" width="4.4" height="1.54"/>
<rect class="g" x="493.75" y="474.61" width="4.4" height="5.49"/>
<rect class="y" x="504.89" y="546.87" width="4.4" height="34.04"/>
<rect class="r" x="504.89" y="539.18" width="4.4" height="7.69"/>
<rect class="o" x="504.89" y="470.88" width="4.4" height="68.3"/>
<rect class="p" x="504.89" y="469.34" width="4.4" height="1.54"/>
<rect class="g" x="504.89" y="467.58" width="4.4" height="1.76"/>
<rect class="y" x="516.03" y="548.84" width="4.4" height="32.07"/>
<rect class="r" x="516.03" y="541.16" width="4.4" height="7.69"/>
<rect class="o" x="516.03" y="471.54" width="4.4" height="69.62"/>
<rect class="g" x="516.03" y="469.12" width="4.4" height="2.42"/>
<rect class="y" x="527.17" y="548.84" width="4.4" height="32.07"/>
<rect class="r" x="527.17" y="541.38" width="4.4" height="7.47"/>
<rect class="o" x="527.17" y="470" width="4.4" height="71.38"/>
<rect class="p" x="527.17" y="466.92" width="4.4" height="3.07"/>
<rect class="k" x="527.17" y="466.05" width="4.4" height="0.88"/>
<rect class="g" x="527.17" y="464.51" width="4.4" height="1.54"/>
<rect class="y" x="538.31" y="562.9" width="4.4" height="18.01"/>
<rect class="r" x="538.31" y="559.17" width="4.4" height="3.73"/>
<rect class="o" x="538.31" y="532.15" width="4.4" height="27.01"/>
<rect class="p" x="538.31" y="530.18" width="4.4" height="1.98"/>
<rect class="k" x="538.31" y="529.3" width="4.4" height="0.88"/>
<rect class="g" x="538.31" y="528.2" width="4.4" height="1.1"/>
<rect class="y" x="549.45" y="550.6" width="4.4" height="30.31"/>
<rect class="r" x="549.45" y="543.13" width="4.4" height="7.47"/>
<rect class="o" x="549.45" y="508.43" width="4.4" height="34.7"/>
<rect class="g" x="549.45" y="505.36" width="4.4" height="3.07"/>
<rect class="y" x="560.6" y="559.17" width="4.4" height="21.74"/>
<rect class="r" x="560.6" y="553.9" width="4.4" height="5.27"/>
<rect class="o" x="560.6" y="527.1" width="4.4" height="26.79"/>
<rect class="p" x="560.6" y="526.44" width="4.4" height="0.66"/>
<rect class="g" x="560.6" y="520.07" width="4.4" height="6.37"/>
<rect class="y" x="571.74" y="557.41" width="4.4" height="23.5"/>
<rect class="r" x="571.74" y="552.14" width="4.4" height="5.27"/>
<rect class="o" x="571.74" y="515.68" width="4.4" height="36.46"/>
<rect class="k" x="571.74" y="514.58" width="4.4" height="1.1"/>
<rect class="g" x="571.74" y="512.39" width="4.4" height="2.2"/>
<rect class="y" x="582.88" y="559.83" width="4.4" height="21.08"/>
<rect class="r" x="582.88" y="555.21" width="4.4" height="4.61"/>
<rect class="o" x="582.88" y="522.27" width="4.4" height="32.94"/>
<rect class="g" x="582.88" y="518.54" width="4.4" height="3.73"/>
<rect class="y" x="594.02" y="547.97" width="4.4" height="32.94"/>
<rect class="r" x="594.02" y="539.84" width="4.4" height="8.13"/>
<rect class="o" x="594.02" y="501.84" width="4.4" height="38"/>
<rect class="k" x="594.02" y="500.09" width="4.4" height="1.76"/>
<rect class="g" x="594.02" y="496.13" width="4.4" height="3.95"/>
<rect class="y" x="605.16" y="546.21" width="4.4" height="34.7"/>
<rect class="r" x="605.16" y="537.42" width="4.4" height="8.79"/>
<rect class="o" x="605.16" y="497.67" width="4.4" height="39.75"/>
<rect class="t" x="605.16" y="496.13" width="4.4" height="1.54"/>
<rect class="k" x="605.16" y="493.06" width="4.4" height="3.07"/>
<rect class="g" x="605.16" y="486.03" width="4.4" height="7.03"/>
<rect class="y" x="616.3" y="541.6" width="4.4" height="39.31"/>
<rect class="r" x="616.3" y="531.93" width="4.4" height="9.66"/>
<rect class="o" x="616.3" y="498.55" width="4.4" height="33.38"/>
<rect class="t" x="616.3" y="494.16" width="4.4" height="4.39"/>
<rect class="p" x="616.3" y="491.74" width="4.4" height="2.42"/>
<rect class="k" x="616.3" y="478.35" width="4.4" height="13.4"/>
<rect class="g" x="616.3" y="470.22" width="4.4" height="8.13"/>
<rect class="y" x="627.44" y="536.11" width="4.4" height="44.8"/>
<rect class="r" x="627.44" y="524.25" width="4.4" height="11.86"/>
<rect class="o" x="627.44" y="487.13" width="4.4" height="37.12"/>
<rect class="p" x="627.44" y="482.96" width="4.4" height="4.17"/>
<rect class="k" x="627.44" y="473.29" width="4.4" height="9.66"/>
<rect class="g" x="627.44" y="470" width="4.4" height="3.29"/>
<rect class="y" x="638.58" y="561.14" width="4.4" height="19.77"/>
<rect class="r" x="638.58" y="556.31" width="4.4" height="4.83"/>
<rect class="o" x="638.58" y="528.42" width="4.4" height="27.89"/>
<rect class="t" x="638.58" y="525.13" width="4.4" height="3.29"/>
<rect class="p" x="638.58" y="521.83" width="4.4" height="3.29"/>
<rect class="k" x="638.58" y="517.44" width="4.4" height="4.39"/>
<rect class="g" x="638.58" y="511.51" width="4.4" height="5.93"/>
<text class="l e" x="55.1" y="582.76">0</text>
<text class="l e" x="55.1" y="560.8">100</text>
<text class="l e" x="55.1" y="538.84">200</text>
<text class="l e" x="55.1" y="516.87">300</text>
<text class="l e" x="55.1" y="494.91">400</text>
<text class="l e" x="55.1" y="472.95">500</text>
<text class="l e" x="55.1" y="450.99">600</text>
<text class="l e" x="55.1" y="429.02">700</text>
<text class="l e" x="55.1" y="407.06">800</text>
<path class="ax" d="M58.5 405.21V580.91M56.0 580.5H58.5M56.0 558.5H58.5M56.0 536.5H58.5M56.0 515.5H58.5M56.0 493.5H58.5M56.0 471.5H58.5M56.0 449.5H58.5M56.0 427.5H58.5M56.0 405.5H58.5"/>
<text class="h m" transform="translate(41.6 493.06) rotate(-90)">Observation Count</text>
<text class="b m" font-size="7.04" transform="translate(27.5 492.76) rotate(-90)">thetruestory.news</text>
</g>
<g>
<path class="gL" d="M106.5 599.59V775.29M155.5 599.59V775.29M202.5 599.59V775.29M301.5 599.59V775.29M347.5 599.59V775.29M396.5 599.59V775.29M444.5 599.59V775.29M591.5 599.59V775.29M58.5 759.5H643.5M58.5 727.5H643.5M58.5 711.5H643.5M58.5 679.5H643.5M58.5 663.5H643.5M58.5 631.5H643.5M58.5 615.5H643.5M58.5 599.5H643.5"/>
<path class="gM" d="M494.5 599.59V775.29M542.5 599.59V775.29M640.5 599.59V775.29M58.5 775.5H643.5M58.5 743.5H643.5M58.5 647.5H643.5M643.5 599.59V775.29"/>
<path class="gD" d="M252.5 599.59V775.29M58.5 695.5H643.5"/>
<rect class="y" x="59.25" y="753.89" width="4.4" height="21.4"/>
<rect class="r" x="59.25" y="744.62" width="4.4" height="9.26"/>
<rect class="o" x="59.25" y="741.11" width="4.4" height="3.51"/>
<rect class="t" x="59.25" y="740.15" width="4.4" height="0.96"/>
<rect class="p" x="59.25" y="738.87" width="4.4" height="1.28"/>
<rect class="k" x="59.25" y="737.91" width="4.4" height="0.96"/>
<rect class="g" x="59.25" y="736" width="4.4" height="1.92"/>
<rect class="y" x="70.39" y="735.04" width="4.4" height="40.25"/>
<rect class="r" x="70.39" y="717.15" width="4.4" height="17.89"/>
<rect class="o" x="70.39" y="689.36" width="4.4" height="27.79"/>
<rect class="t" x="70.39" y="686.48" width="4.4" height="2.88"/>
<rect class="p" x="70.39" y="667.95" width="4.4" height="18.53"/>
<rect class="k" x="70.39" y="662.2" width="4.4" height="5.75"/>
<rect class="g" x="70.39" y="658.05" width="4.4" height="4.15"/>
<rect class="y" x="81.53" y="736" width="4.4" height="39.29"/>
<rect class="r" x="81.53" y="717.15" width="4.4" height="18.85"/>
<rect class="o" x="81.53" y="704.37" width="4.4" height="12.78"/>
<rect class="t" x="81.53" y="702.13" width="4.4" height="2.24"/>
<rect class="k" x="81.53" y="700.22" width="4.4" height="1.92"/>
<rect class="g" x="81.53" y="695.75" width="4.4" height="4.47"/>
<rect class="y" x="92.67" y="741.75" width="4.4" height="33.54"/>
<rect class="r" x="92.67" y="726.73" width="4.4" height="15.01"/>
<rect class="o" x="92.67" y="696.7" width="4.4" height="30.03"/>
<rect class="t" x="92.67" y="692.55" width="4.4" height="4.15"/>
<rect class="p" x="92.67" y="687.76" width="4.4" height="4.79"/>
<rect class="k" x="92.67" y="683.29" width="4.4" height="4.47"/>
<rect class="g" x="92.67" y="676.9" width="4.4" height="6.39"/>
<rect class="y" x="103.81" y="735.04" width="4.4" height="40.25"/>
<rect class="r" x="103.81" y="716.83" width="4.4" height="18.21"/>
<rect class="o" x="103.81" y="696.7" width="4.4" height="20.13"/>
<rect class="t" x="103.81" y="684.88" width="4.4" height="11.82"/>
<rect class="p" x="103.81" y="682.65" width="4.4" height="2.24"/>
<rect class="k" x="103.81" y="680.73" width="4.4" height="1.92"/>
<rect class="g" x="103.81" y="675.3" width="4.4" height="5.43"/>
<rect class="y" x="114.95" y="704.69" width="4.4" height="70.6"/>
<rect class="r" x="114.95" y="669.87" width="4.4" height="34.82"/>
<rect class="o" x="114.95" y="644.95" width="4.4" height="24.92"/>
<rect class="t" x="114.95" y="641.76" width="4.4" height="3.19"/>
<rect class="p" x="114.95" y="633.77" width="4.4" height="7.99"/>
<rect class="k" x="114.95" y="628.98" width="4.4" height="4.79"/>
<rect class="g" x="114.95" y="621.31" width="4.4" height="7.67"/>
<rect class="y" x="126.1" y="721.62" width="4.4" height="53.67"/>
<rect class="r" x="126.1" y="694.47" width="4.4" height="27.15"/>
<rect class="o" x="126.1" y="673.7" width="4.4" height="20.76"/>
<rect class="t" x="126.1" y="669.87" width="4.4" height="3.83"/>
<rect class="p" x="126.1" y="667.95" width="4.4" height="1.92"/>
<rect class="k" x="126.1" y="666.36" width="4.4" height="1.6"/>
<rect class="g" x="126.1" y="651.02" width="4.4" height="15.33"/>
<rect class="y" x="137.24" y="724.5" width="4.4" height="50.79"/>
<rect class="r" x="137.24" y="700.54" width="4.4" height="23.96"/>
<rect class="o" x="137.24" y="691.91" width="4.4" height="8.63"/>
<rect class="t" x="137.24" y="688.08" width="4.4" height="3.83"/>
<rect class="p" x="137.24" y="686.8" width="4.4" height="1.28"/>
<rect class="k" x="137.24" y="680.09" width="4.4" height="6.71"/>
<rect class="g" x="137.24" y="673.7" width="4.4" height="6.39"/>
<rect class="y" x="148.38" y="745.9" width="4.4" height="29.39"/>
<rect class="r" x="148.38" y="731.84" width="4.4" height="14.06"/>
<rect class="o" x="148.38" y="721.94" width="4.4" height="9.9"/>
<rect class="t" x="148.38" y="716.83" width="4.4" height="5.11"/>
<rect class="p" x="148.38" y="714.91" width="4.4" height="1.92"/>
<rect class="k" x="148.38" y="713.64" width="4.4" height="1.28"/>
<rect class="g" x="148.38" y="711.72" width="4.4" height="1.92"/>
<rect class="y" x="159.52" y="729.93" width="4.4" height="45.36"/>
<rect class="r" x="159.52" y="708.84" width="4.4" height="21.08"/>
<rect class="o" x="159.52" y="696.7" width="4.4" height="12.14"/>
<rect class="t" x="159.52" y="693.19" width="4.4" height="3.51"/>
<rect class="p" x="159.52" y="690" width="4.4" height="3.19"/>
<rect class="k" x="159.52" y="689.04" width="4.4" height="0.96"/>
<rect class="g" x="159.52" y="685.52" width="4.4" height="3.51"/>
<rect class="y" x="170.66" y="743.98" width="4.4" height="31.31"/>
<rect class="r" x="170.66" y="728.65" width="4.4" height="15.33"/>
<rect class="o" x="170.66" y="716.83" width="4.4" height="11.82"/>
<rect class="t" x="170.66" y="713.95" width="4.4" height="2.88"/>
<rect class="k" x="170.66" y="712.36" width="4.4" height="1.6"/>
<rect class="g" x="170.66" y="709.16" width="4.4" height="3.19"/>
<rect class="y" x="181.8" y="750.05" width="4.4" height="25.24"/>
<rect class="r" x="181.8" y="738.87" width="4.4" height="11.18"/>
<rect class="o" x="181.8" y="718.75" width="4.4" height="20.13"/>
<rect class="t" x="181.8" y="714.27" width="4.4" height="4.47"/>
<rect class="p" x="181.8" y="711.4" width="4.4" height="2.88"/>
<rect class="g" x="181.8" y="707.89" width="4.4" height="3.51"/>
<rect class="y" x="192.94" y="754.84" width="4.4" height="20.45"/>
<rect class="r" x="192.94" y="744.94" width="4.4" height="9.9"/>
<rect class="o" x="192.94" y="718.75" width="4.4" height="26.2"/>
<rect class="t" x="192.94" y="711.08" width="4.4" height="7.67"/>
<rect class="p" x="192.94" y="707.25" width="4.4" height="3.83"/>
<rect class="k" x="192.94" y="697.98" width="4.4" height="9.26"/>
<rect class="g" x="192.94" y="697.34" width="4.4" height="0.64"/>
<rect class="y" x="204.08" y="745.9" width="4.4" height="29.39"/>
<rect class="r" x="204.08" y="731.84" width="4.4" height="14.06"/>
<rect class="o" x="204.08" y="711.08" width="4.4" height="20.76"/>
<rect class="t" x="204.08" y="707.57" width="4.4" height="3.51"/>
<rect class="p" x="204.08" y="705.65" width="4.4" height="1.92"/>
<rect class="k" x="204.08" y="703.73" width="4.4" height="1.92"/>
<rect class="y" x="215.22" y="753.89" width="4.4" height="21.4"/>
<rect class="r" x="215.22" y="743.66" width="4.4" height="10.22"/>
<rect class="o" x="215.22" y="727.37" width="4.4" height="16.29"/>
<rect class="t" x="215.22" y="713" width="4.4" height="14.38"/>
<rect class="p" x="215.22" y="711.4" width="4.4" height="1.6"/>
<rect class="k" x="215.22" y="701.82" width="4.4" height="9.58"/>
<rect class="g" x="215.22" y="700.22" width="4.4" height="1.6"/>
<rect class="y" x="226.37" y="751.01" width="4.4" height="24.28"/>
<rect class="r" x="226.37" y="740.15" width="4.4" height="10.86"/>
<rect class="o" x="226.37" y="720.02" width="4.4" height="20.13"/>
<rect class="t" x="226.37" y="718.11" width="4.4" height="1.92"/>
<rect class="p" x="226.37" y="713.64" width="4.4" height="4.47"/>
<rect class="k" x="226.37" y="710.44" width="4.4" height="3.19"/>
<rect class="g" x="226.37" y="704.05" width="4.4" height="6.39"/>
<rect class="y" x="237.51" y="743.98" width="4.4" height="31.31"/>
<rect class="r" x="237.51" y="731.84" width="4.4" height="12.14"/>
<rect class="o" x="237.51" y="708.84" width="4.4" height="23"/>
<rect class="t" x="237.51" y="705.01" width="4.4" height="3.83"/>
<rect class="p" x="237.51" y="702.13" width="4.4" height="2.88"/>
<rect class="k" x="237.51" y="699.26" width="4.4" height="2.88"/>
<rect class="g" x="237.51" y="686.8" width="4.4" height="12.46"/>
<rect class="y" x="248.65" y="740.79" width="4.4" height="34.5"/>
<rect class="r" x="248.65" y="726.09" width="4.4" height="14.69"/>
<rect class="o" x="248.65" y="679.13" width="4.4" height="46.96"/>
<rect class="t" x="248.65" y="675.94" width="4.4" height="3.19"/>
<rect class="p" x="248.65" y="674.66" width="4.4" height="1.28"/>
<rect class="g" x="248.65" y="672.75" width="4.4" height="1.92"/>
<rect class="y" x="259.79" y="738.55" width="4.4" height="36.74"/>
<rect class="r" x="259.79" y="722.9" width="4.4" height="15.65"/>
<rect class="o" x="259.79" y="676.9" width="4.4" height="46"/>
<rect class="t" x="259.79" y="674.66" width="4.4" height="2.24"/>
<rect class="g" x="259.79" y="672.43" width="4.4" height="2.24"/>
<rect class="y" x="270.93" y="726.73" width="4.4" height="48.56"/>
<rect class="r" x="270.93" y="704.69" width="4.4" height="22.04"/>
<rect class="o" x="270.93" y="679.13" width="4.4" height="25.56"/>
<rect class="t" x="270.93" y="665.08" width="4.4" height="14.06"/>
<rect class="g" x="270.93" y="661.24" width="4.4" height="3.83"/>
<rect class="y" x="282.07" y="723.22" width="4.4" height="52.07"/>
<rect class="r" x="282.07" y="699.9" width="4.4" height="23.32"/>
<rect class="o" x="282.07" y="644.95" width="4.4" height="54.95"/>
<rect class="t" x="282.07" y="618.44" width="4.4" height="26.51"/>
<rect class="p" x="282.07" y="615.88" width="4.4" height="2.56"/>
<rect class="g" x="282.07" y="614.28" width="4.4" height="1.6"/>
<rect class="y" x="293.21" y="731.84" width="4.4" height="43.45"/>
<rect class="r" x="293.21" y="710.12" width="4.4" height="21.72"/>
<rect class="o" x="293.21" y="675.62" width="4.4" height="34.5"/>
<rect class="t" x="293.21" y="665.4" width="4.4" height="10.22"/>
<rect class="p" x="293.21" y="663.16" width="4.4" height="2.24"/>
<rect class="g" x="293.21" y="662.2" width="4.4" height="0.96"/>
<rect class="y" x="304.35" y="735.36" width="4.4" height="39.93"/>
<rect class="r" x="304.35" y="717.79" width="4.4" height="17.57"/>
<rect class="o" x="304.35" y="666.68" width="4.4" height="51.11"/>
<rect class="t" x="304.35" y="656.13" width="4.4" height="10.54"/>
<rect class="p" x="304.35" y="652.94" width="4.4" height="3.19"/>
<rect class="k" x="304.35" y="652.3" width="4.4" height="0.64"/>
<rect class="y" x="315.49" y="740.15" width="4.4" height="35.14"/>
<rect class="r" x="315.49" y="723.86" width="4.4" height="16.29"/>
<rect class="o" x="315.49" y="702.77" width="4.4" height="21.08"/>
<rect class="t" x="315.49" y="701.18" width="4.4" height="1.6"/>
<rect class="k" x="315.49" y="699.9" width="4.4" height="1.28"/>
<rect class="g" x="315.49" y="698.3" width="4.4" height="1.6"/>
<rect class="y" x="326.63" y="735.68" width="4.4" height="39.61"/>
<rect class="r" x="326.63" y="717.79" width="4.4" height="17.89"/>
<rect class="o" x="326.63" y="685.2" width="4.4" height="32.58"/>
<rect class="t" x="326.63" y="663.8" width="4.4" height="21.4"/>
<rect class="k" x="326.63" y="662.2" width="4.4" height="1.6"/>
<rect class="g" x="326.63" y="660.61" width="4.4" height="1.6"/>
<rect class="y" x="337.77" y="734.08" width="4.4" height="41.21"/>
<rect class="r" x="337.77" y="715.87" width="4.4" height="18.21"/>
<rect class="o" x="337.77" y="667.95" width="4.4" height="47.92"/>
<rect class="t" x="337.77" y="662.84" width="4.4" height="5.11"/>
<rect class="k" x="337.77" y="659.33" width="4.4" height="3.51"/>
<rect class="g" x="337.77" y="652.94" width="4.4" height="6.39"/>
<rect class="y" x="348.92" y="751.97" width="4.4" height="23.32"/>
<rect class="r" x="348.92" y="740.79" width="4.4" height="11.18"/>
<rect class="o" x="348.92" y="672.43" width="4.4" height="68.36"/>
<rect class="t" x="348.92" y="670.19" width="4.4" height="2.24"/>
<rect class="k" x="348.92" y="664.44" width="4.4" height="5.75"/>
<rect class="g" x="348.92" y="659.97" width="4.4" height="4.47"/>
<rect class="y" x="360.06" y="732.8" width="4.4" height="42.49"/>
<rect class="r" x="360.06" y="708.52" width="4.4" height="24.28"/>
<rect class="o" x="360.06" y="667.95" width="4.4" height="40.57"/>
<rect class="t" x="360.06" y="659.65" width="4.4" height="8.31"/>
<rect class="p" x="360.06" y="656.13" width="4.4" height="3.51"/>
<rect class="g" x="360.06" y="652.3" width="4.4" height="3.83"/>
<rect class="y" x="371.2" y="734.08" width="4.4" height="41.21"/>
<rect class="r" x="371.2" y="713.95" width="4.4" height="20.13"/>
<rect class="o" x="371.2" y="686.16" width="4.4" height="27.79"/>
<rect class="t" x="371.2" y="682.65" width="4.4" height="3.51"/>
<rect class="k" x="371.2" y="681.37" width="4.4" height="1.28"/>
<rect class="g" x="371.2" y="677.54" width="4.4" height="3.83"/>
<rect class="y" x="382.34" y="743.98" width="4.4" height="31.31"/>
<rect class="r" x="382.34" y="728.33" width="4.4" height="15.65"/>
<rect class="o" x="382.34" y="697.66" width="4.4" height="30.67"/>
<rect class="t" x="382.34" y="687.44" width="4.4" height="10.22"/>
<rect class="p" x="382.34" y="684.88" width="4.4" height="2.56"/>
<rect class="k" x="382.34" y="682.65" width="4.4" height="2.24"/>
<rect class="g" x="382.34" y="680.41" width="4.4" height="2.24"/>
<rect class="y" x="393.48" y="741.75" width="4.4" height="33.54"/>
<rect class="r" x="393.48" y="726.41" width="4.4" height="15.33"/>
<rect class="o" x="393.48" y="706.93" width="4.4" height="19.49"/>
<rect class="t" x="393.48" y="704.69" width="4.4" height="2.24"/>
<rect class="p" x="393.48" y="703.09" width="4.4" height="1.6"/>
<rect class="k" x="393.48" y="701.18" width="4.4" height="1.92"/>
<rect class="y" x="404.62" y="758.04" width="4.4" height="17.25"/>
<rect class="r" x="404.62" y="749.73" width="4.4" height="8.31"/>
<rect class="o" x="404.62" y="737.91" width="4.4" height="11.82"/>
<rect class="p" x="404.62" y="710.76" width="4.4" height="27.15"/>
<rect class="k" x="404.62" y="708.2" width="4.4" height="2.56"/>
<rect class="y" x="415.76" y="755.16" width="4.4" height="20.13"/>
<rect class="r" x="415.76" y="743.98" width="4.4" height="11.18"/>
<rect class="o" x="415.76" y="721.94" width="4.4" height="22.04"/>
<rect class="t" x="415.76" y="713.95" width="4.4" height="7.99"/>
<rect class="p" x="415.76" y="707.89" width="4.4" height="6.07"/>
<rect class="k" x="415.76" y="707.25" width="4.4" height="0.64"/>
<rect class="g" x="415.76" y="705.65" width="4.4" height="1.6"/>
<rect class="y" x="426.9" y="756.12" width="4.4" height="19.17"/>
<rect class="r" x="426.9" y="747.82" width="4.4" height="8.31"/>
<rect class="o" x="426.9" y="726.09" width="4.4" height="21.72"/>
<rect class="t" x="426.9" y="721.3" width="4.4" height="4.79"/>
<rect class="p" x="426.9" y="719.7" width="4.4" height="1.6"/>
<rect class="k" x="426.9" y="718.75" width="4.4" height="0.96"/>
<rect class="g" x="426.9" y="717.47" width="4.4" height="1.28"/>
<rect class="y" x="438.04" y="757.08" width="4.4" height="18.21"/>
<rect class="r" x="438.04" y="748.78" width="4.4" height="8.31"/>
<rect class="o" x="438.04" y="709.16" width="4.4" height="39.61"/>
<rect class="t" x="438.04" y="707.89" width="4.4" height="1.28"/>
<rect class="p" x="438.04" y="706.29" width="4.4" height="1.6"/>
<rect class="k" x="438.04" y="703.73" width="4.4" height="2.56"/>
<rect class="g" x="438.04" y="698.94" width="4.4" height="4.79"/>
<rect class="y" x="449.19" y="751.97" width="4.4" height="23.32"/>
<rect class="r" x="449.19" y="744.94" width="4.4" height="7.03"/>
<rect class="o" x="449.19" y="695.11" width="4.4" height="49.83"/>
<rect class="t" x="449.19" y="694.15" width="4.4" height="0.96"/>
<rect class="p" x="449.19" y="685.52" width="4.4" height="8.63"/>
<rect class="k" x="449.19" y="684.56" width="4.4" height="0.96"/>
<rect class="y" x="460.33" y="749.09" width="4.4" height="26.2"/>
<rect class="r" x="460.33" y="737.91" width="4.4" height="11.18"/>
<rect class="o" x="460.33" y="715.55" width="4.4" height="22.36"/>
<rect class="t" x="460.33" y="714.27" width="4.4" height="1.28"/>
<rect class="p" x="460.33" y="712.36" width="4.4" height="1.92"/>
<rect class="k" x="460.33" y="711.4" width="4.4" height="0.96"/>
<rect class="g" x="460.33" y="708.2" width="4.4" height="3.19"/>
<rect class="y" x="471.47" y="747.5" width="4.4" height="27.79"/>
<rect class="r" x="471.47" y="735.68" width="4.4" height="11.82"/>
<rect class="o" x="471.47" y="686.8" width="4.4" height="48.88"/>
<rect class="t" x="471.47" y="685.2" width="4.4" height="1.6"/>
<rect class="p" x="471.47" y="681.37" width="4.4" height="3.83"/>
<rect class="k" x="471.47" y="678.18" width="4.4" height="3.19"/>
<rect class="g" x="471.47" y="675.94" width="4.4" height="2.24"/>
<rect class="y" x="482.61" y="745.58" width="4.4" height="29.71"/>
<rect class="r" x="482.61" y="731.84" width="4.4" height="13.74"/>
<rect class="o" x="482.61" y="689.68" width="4.4" height="42.17"/>
<rect class="t" x="482.61" y="685.84" width="4.4" height="3.83"/>
<rect class="p" x="482.61" y="682.97" width="4.4" height="2.88"/>
<rect class="g" x="482.61" y="678.81" width="4.4" height="4.15"/>
<rect class="y" x="493.75" y="744.94" width="4.4" height="30.35"/>
<rect class="r" x="493.75" y="731.52" width="4.4" height="13.42"/>
<rect class="o" x="493.75" y="670.19" width="4.4" height="61.34"/>
<rect class="t" x="493.75" y="668.91" width="4.4" height="1.28"/>
<rect class="k" x="493.75" y="665.08" width="4.4" height="3.83"/>
<rect class="g" x="493.75" y="660.61" width="4.4" height="4.47"/>
<rect class="y" x="504.89" y="745.9" width="4.4" height="29.39"/>
<rect class="r" x="504.89" y="731.84" width="4.4" height="14.06"/>
<rect class="o" x="504.89" y="696.07" width="4.4" height="35.78"/>
<rect class="t" x="504.89" y="695.11" width="4.4" height="0.96"/>
<rect class="p" x="504.89" y="693.19" width="4.4" height="1.92"/>
<rect class="k" x="504.89" y="692.23" width="4.4" height="0.96"/>
<rect class="g" x="504.89" y="689.68" width="4.4" height="2.56"/>
<rect class="y" x="516.03" y="752.93" width="4.4" height="22.36"/>
<rect class="r" x="516.03" y="742.39" width="4.4" height="10.54"/>
<rect class="o" x="516.03" y="683.29" width="4.4" height="59.1"/>
<rect class="t" x="516.03" y="682.01" width="4.4" height="1.28"/>
<rect class="p" x="516.03" y="680.73" width="4.4" height="1.28"/>
<rect class="k" x="516.03" y="679.77" width="4.4" height="0.96"/>
<rect class="g" x="516.03" y="673.06" width="4.4" height="6.71"/>
<rect class="y" x="527.17" y="729.93" width="4.4" height="45.36"/>
<rect class="r" x="527.17" y="709.48" width="4.4" height="20.45"/>
<rect class="o" x="527.17" y="651.02" width="4.4" height="58.46"/>
<rect class="t" x="527.17" y="643.99" width="4.4" height="7.03"/>
<rect class="p" x="527.17" y="636.97" width="4.4" height="7.03"/>
<rect class="g" x="527.17" y="634.41" width="4.4" height="2.56"/>
<rect class="y" x="538.31" y="759.32" width="4.4" height="15.97"/>
<rect class="r" x="538.31" y="752.61" width="4.4" height="6.71"/>
<rect class="o" x="538.31" y="730.57" width="4.4" height="22.04"/>
<rect class="t" x="538.31" y="727.37" width="4.4" height="3.19"/>
<rect class="p" x="538.31" y="724.5" width="4.4" height="2.88"/>
<rect class="g" x="538.31" y="722.9" width="4.4" height="1.6"/>
<rect class="y" x="549.45" y="734.4" width="4.4" height="40.89"/>
<rect class="r" x="549.45" y="718.43" width="4.4" height="15.97"/>
<rect class="o" x="549.45" y="689.68" width="4.4" height="28.75"/>
<rect class="t" x="549.45" y="679.45" width="4.4" height="10.22"/>
<rect class="k" x="549.45" y="678.5" width="4.4" height="0.96"/>
<rect class="g" x="549.45" y="672.75" width="4.4" height="5.75"/>
<rect class="y" x="560.6" y="735.68" width="4.4" height="39.61"/>
<rect class="r" x="560.6" y="720.02" width="4.4" height="15.65"/>
<rect class="o" x="560.6" y="685.84" width="4.4" height="34.18"/>
<rect class="t" x="560.6" y="684.25" width="4.4" height="1.6"/>
<rect class="p" x="560.6" y="683.29" width="4.4" height="0.96"/>
<rect class="k" x="560.6" y="682.01" width="4.4" height="1.28"/>
<rect class="g" x="560.6" y="668.27" width="4.4" height="13.74"/>
<rect class="y" x="571.74" y="751.97" width="4.4" height="23.32"/>
<rect class="r" x="571.74" y="743.66" width="4.4" height="8.31"/>
<rect class="o" x="571.74" y="707.25" width="4.4" height="36.42"/>
<rect class="t" x="571.74" y="705.97" width="4.4" height="1.28"/>
<rect class="k" x="571.74" y="703.73" width="4.4" height="2.24"/>
<rect class="g" x="571.74" y="697.98" width="4.4" height="5.75"/>
<rect class="y" x="582.88" y="749.41" width="4.4" height="25.88"/>
<rect class="r" x="582.88" y="741.11" width="4.4" height="8.31"/>
<rect class="o" x="582.88" y="705.01" width="4.4" height="36.1"/>
<rect class="p" x="582.88" y="704.05" width="4.4" height="0.96"/>
<rect class="g" x="582.88" y="697.66" width="4.4" height="6.39"/>
<rect class="y" x="594.02" y="745.58" width="4.4" height="29.71"/>
<rect class="r" x="594.02" y="731.84" width="4.4" height="13.74"/>
<rect class="o" x="594.02" y="682.65" width="4.4" height="49.2"/>
<rect class="t" x="594.02" y="680.41" width="4.4" height="2.24"/>
<rect class="k" x="594.02" y="679.45" width="4.4" height="0.96"/>
<rect class="g" x="594.02" y="668.91" width="4.4" height="10.54"/>
<rect class="y" x="605.16" y="747.82" width="4.4" height="27.47"/>
<rect class="r" x="605.16" y="734.72" width="4.4" height="13.1"/>
<rect class="o" x="605.16" y="693.83" width="4.4" height="40.89"/>
<rect class="t" x="605.16" y="692.55" width="4.4" height="1.28"/>
<rect class="p" x="605.16" y="691.91" width="4.4" height="0.64"/>
<rect class="k" x="605.16" y="689.36" width="4.4" height="2.56"/>
<rect class="g" x="605.16" y="680.41" width="4.4" height="8.94"/>
<rect class="y" x="616.3" y="732.48" width="4.4" height="42.81"/>
<rect class="r" x="616.3" y="711.72" width="4.4" height="20.76"/>
<rect class="o" x="616.3" y="668.27" width="4.4" height="43.45"/>
<rect class="t" x="616.3" y="665.4" width="4.4" height="2.88"/>
<rect class="p" x="616.3" y="663.48" width="4.4" height="1.92"/>
<rect class="k" x="616.3" y="648.79" width="4.4" height="14.69"/>
<rect class="g" x="616.3" y="634.41" width="4.4" height="14.38"/>
<rect class="y" x="627.44" y="742.39" width="4.4" height="32.9"/>
<rect class="r" x="627.44" y="726.09" width="4.4" height="16.29"/>
<rect class="o" x="627.44" y="676.9" width="4.4" height="49.2"/>
<rect class="t" x="627.44" y="675.3" width="4.4" height="1.6"/>
<rect class="p" x="627.44" y="668.91" width="4.4" height="6.39"/>
<rect class="k" x="627.44" y="658.37" width="4.4" height="10.54"/>
<rect class="g" x="627.44" y="651.98" width="4.4" height="6.39"/>
<rect class="y" x="638.58" y="759.96" width="4.4" height="15.33"/>
<rect class="r" x="638.58" y="752.61" width="4.4" height="7.35"/>
<rect class="o" x="638.58" y="717.15" width="4.4" height="35.46"/>
<rect class="t" x="638.58" y="715.55" width="4.4" height="1.6"/>
<rect class="k" x="638.58" y="706.29" width="4.4" height="9.26"/>
<rect class="g" x="638.58" y="699.26" width="4.4" height="7.03"/>
<text class="l e" x="55.1" y="777.14">0</text>
<text class="l e" x="55.1" y="761.17">50</text>
<text class="l e" x="55.1" y="745.19">100</text>
<text class="l e" x="55.1" y="729.22">150</text>
<text class="l e" x="55.1" y="713.25">200</text>
<text class="l e" x="55.1" y="697.28">250</text>
<text class="l e" x="55.1" y="681.3">300</text>
<text class="l e" x="55.1" y="665.33">350</text>
<text class="l e" x="55.1" y="649.36">400</text>
<text class="l e" x="55.1" y="633.39">450</text>
<text class="l e" x="55.1" y="617.41">500</text>
<text class="l e" x="55.1" y="601.44">550</text>
<path class="ax" d="M58.5 599.59V775.29M56.0 775.5H58.5M56.0 759.5H58.5M56.0 743.5H58.5M56.0 727.5H58.5M56.0 711.5H58.5M56.0 695.5H58.5M56.0 679.5H58.5M56.0 663.5H58.5M56.0 647.5H58.5M56.0 631.5H58.5M56.0 615.5H58.5M56.0 599.5H58.5"/>
<text class="h m" transform="translate(41.6 687.44) rotate(-90)">Observation Count</text>
<text class="b m" font-size="7.04" transform="translate(27.5 687.14) rotate(-90)">tjournal.ru</text>
</g>
<text class="h m" transform="translate(8.2 395.5) rotate(-90)">hostname</text>
<text class="l b m" x="106.01" y="787.9">October</text>
<text class="l b m" x="155.35" y="787.9">November</text>
<text class="l b m" x="203.1" y="787.9">December</text>
<text class="l b m" x="252.44" y="787.9">2024</text>
<text class="l b m" x="301.78" y="787.9">February</text>
<text class="l b m" x="347.93" y="787.9">March</text>
<text class="l b m" x="397.27" y="787.9">April</text>
<text class="l b m" x="445.02" y="787.9">May</text>
<text class="l b m" x="494.36" y="787.9">June</text>
<text class="l b m" x="542.1" y="787.9">July</text>
<text class="l b m" x="591.44" y="787.9">August</text>
<text class="l b m" x="640.78" y="787.9">September</text>
<path class="ax" d="M58.5 778.5H643.5M106.5 778.5v2.5M155.5 778.5v2.5M202.5 778.5v2.5M252.5 778.5v2.5M301.5 778.5v2.5M347.5 778.5v2.5M396.5 778.5v2.5M444.5 778.5v2.5M494.5 778.5v2.5M542.5 778.5v2.5M591.5 778.5v2.5M640.5 778.5v2.5"/>
<text class="h m" x="351.0" y="795.9">measurement_start_time</text>
<text class="h b" x="666.9" y="21.8">Measurement results</text>
<rect class="g" x="667.1" y="25.75" width="6" height="6"/>
<text class="l" x="675.9" y="30.8">ok</text>
<rect class="y" x="667.1" y="33.43" width="6" height="6"/>
<text class="l" x="675.9" y="38.48">tls.timeout_after_client_hello</text>
<rect class="o" x="667.1" y="41.11" width="6" height="6"/>
<text class="l" x="675.9" y="46.16">tls.connection_reset</text>
<rect class="r" x="667.1" y="48.79" width="6" height="6"/>
<text class="l" x="675.9" y="53.84">tls.timeout</text>
<rect class="p" x="667.1" y="56.47" width="6" height="6"/>
<text class="l" x="675.9" y="61.52">tcp.timeout</text>
<rect class="t" x="667.1" y="64.15" width="6" height="6"/>
<text class="l" x="675.9" y="69.2">tls.bad_cert</text>
<rect class="k" x="667.1" y="71.83" width="6" height="6"/>
<text class="l" x="675.9" y="76.88">other failures</text>
</svg>
</body></html>
